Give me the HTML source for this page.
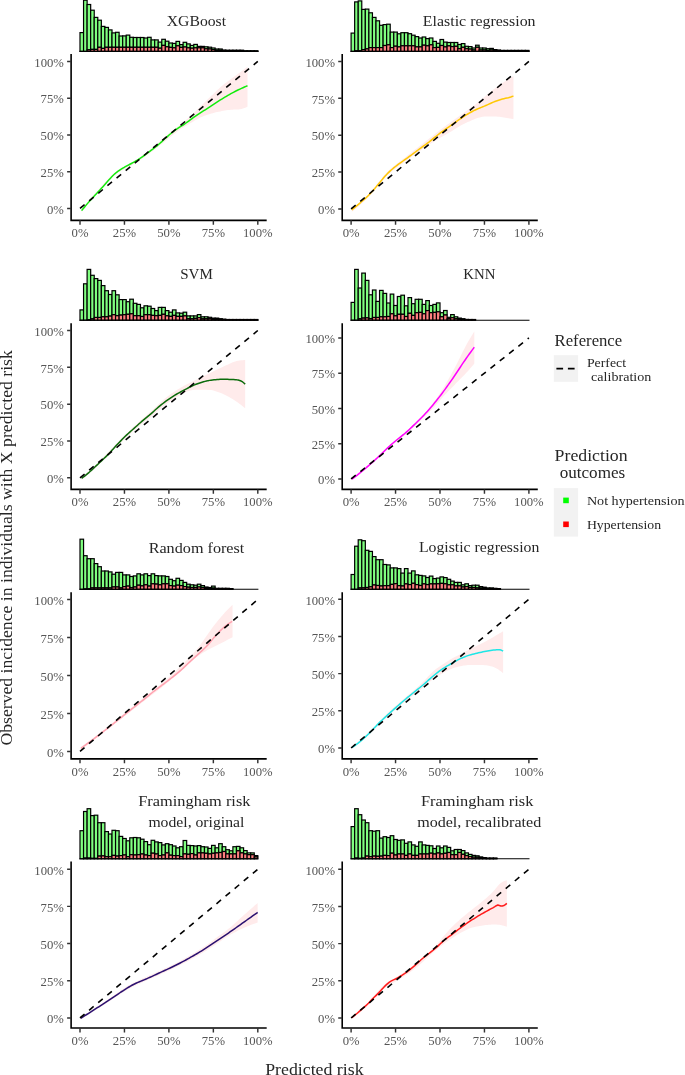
<!DOCTYPE html>
<html><head><meta charset="utf-8"><title>Calibration plots</title>
<style>
html,body{margin:0;padding:0;background:#fff;}
body{width:685px;height:1075px;overflow:hidden;font-family:"Liberation Serif", serif;}
svg{display:block;will-change:transform;}
.tl{font-size:13.3px;fill:#555;}
.tt{font-size:15.6px;fill:#262626;}
.lt{font-size:16.8px;fill:#262626;}
.ll{font-size:13.4px;fill:#262626;}
.at{font-size:16.8px;fill:#262626;}
text{font-family:"Liberation Serif", serif;}
</style></head>
<body>
<svg width="685" height="1075" viewBox="0 0 685 1075">
<rect width="685" height="1075" fill="#fff"/>
<path d="M81.6,209.14 L83.11,207.33 L84.62,205.53 L86.12,203.75 L87.63,201.98 L89.14,200.22 L90.65,198.49 L92.16,196.76 L93.66,195.05 L95.17,193.36 L96.68,191.68 L98.19,190 L99.7,188.31 L101.21,186.61 L102.71,184.9 L104.22,183.19 L105.73,181.5 L107.24,179.85 L108.75,178.24 L110.25,176.71 L111.76,175.25 L113.27,173.9 L114.78,172.65 L116.29,171.5 L117.79,170.45 L119.3,169.49 L120.81,168.59 L122.32,167.73 L123.83,166.91 L125.33,166.12 L126.84,165.32 L128.35,164.51 L129.86,163.68 L131.37,162.82 L132.87,161.91 L134.38,160.95 L135.89,159.97 L137.4,158.95 L138.91,157.92 L140.41,156.86 L141.92,155.79 L143.43,154.69 L144.94,153.58 L146.45,152.45 L147.96,151.31 L149.46,150.14 L150.97,148.96 L152.48,147.74 L153.99,146.49 L155.5,145.21 L157,143.9 L158.51,142.56 L160.02,141.22 L161.53,139.87 L163.04,138.52 L164.54,137.19 L166.05,135.87 L167.56,134.58 L169.07,133.32 L170.58,132.1 L172.08,130.9 L173.59,129.73 L175.1,128.57 L176.61,127.42 L178.12,126.27 L179.62,125.12 L181.13,123.95 L182.64,122.77 L184.15,121.55 L185.66,120.3 L187.16,119.01 L188.67,117.68 L190.18,116.31 L191.69,114.91 L193.2,113.49 L194.71,112.04 L196.21,110.58 L197.72,109.11 L199.23,107.63 L200.74,106.16 L202.25,104.7 L203.75,103.24 L205.26,101.78 L206.77,100.32 L208.28,98.84 L209.79,97.36 L211.29,95.87 L212.8,94.39 L214.31,92.92 L215.82,91.47 L217.33,90.05 L218.83,88.67 L220.34,87.32 L221.85,86.03 L223.36,84.78 L224.87,83.58 L226.37,82.42 L227.88,81.29 L229.39,80.18 L230.9,79.09 L232.41,78.01 L233.91,76.92 L235.42,75.83 L236.93,74.72 L238.44,73.6 L239.95,72.46 L241.46,71.32 L242.96,70.17 L244.47,69.01 L245.98,67.85 L247.49,66.69 L247.49,106.81 L245.98,107.47 L244.47,108.07 L242.96,108.58 L241.46,108.97 L239.95,109.23 L238.44,109.39 L236.93,109.49 L235.42,109.55 L233.91,109.62 L232.41,109.69 L230.9,109.79 L229.39,109.93 L227.88,110.11 L226.37,110.33 L224.87,110.57 L223.36,110.82 L221.85,111.1 L220.34,111.38 L218.83,111.69 L217.33,112.02 L215.82,112.37 L214.31,112.75 L212.8,113.14 L211.29,113.57 L209.79,114.01 L208.28,114.48 L206.77,114.98 L205.26,115.5 L203.75,116.06 L202.25,116.68 L200.74,117.35 L199.23,118.1 L197.72,118.9 L196.21,119.75 L194.71,120.62 L193.2,121.5 L191.69,122.4 L190.18,123.31 L188.67,124.23 L187.16,125.14 L185.66,126.05 L184.15,126.94 L182.64,127.85 L181.13,128.79 L179.62,129.78 L178.12,130.84 L176.61,131.96 L175.1,133.13 L173.59,134.33 L172.08,135.55 L170.58,136.78 L169.07,137.99 L167.56,139.2 L166.05,140.42 L164.54,141.64 L163.04,142.86 L161.53,144.08 L160.02,145.3 L158.51,146.52 L157,147.72 L155.5,148.91 L153.99,150.07 L152.48,151.22 L150.97,152.34 L149.46,153.44 L147.96,154.52 L146.45,155.6 L144.94,156.65 L143.43,157.7 L141.92,158.73 L140.41,159.74 L138.91,160.74 L137.4,161.72 L135.89,162.69 L134.38,163.63 L132.87,164.54 L131.37,165.42 L129.86,166.25 L128.35,167.06 L126.84,167.84 L125.33,168.61 L123.83,169.39 L122.32,170.18 L120.81,171.02 L119.3,171.9 L117.79,172.84 L116.29,173.86 L114.78,174.98 L113.27,176.2 L111.76,177.52 L110.25,178.93 L108.75,180.43 L107.24,181.99 L105.73,183.61 L104.22,185.27 L102.71,186.96 L101.21,188.66 L99.7,190.36 L98.19,192.07 L96.68,193.77 L95.17,195.49 L93.66,197.23 L92.16,199 L90.65,200.79 L89.14,202.62 L87.63,204.46 L86.12,206.34 L84.62,208.23 L83.11,210.15 L81.6,212.08Z" fill="#ffebeb"/>
<path d="M81.6,210.62 L83.11,208.77 L84.62,206.94 L86.12,205.14 L87.63,203.37 L89.14,201.63 L90.65,199.93 L92.16,198.28 L93.66,196.65 L95.17,195.04 L96.68,193.44 L98.19,191.83 L99.7,190.21 L101.21,188.56 L102.71,186.89 L104.22,185.2 L105.73,183.5 L107.24,181.79 L108.75,180.08 L110.25,178.38 L111.76,176.74 L113.27,175.2 L114.78,173.8 L116.29,172.54 L117.79,171.39 L119.3,170.34 L120.81,169.35 L122.32,168.42 L123.83,167.53 L125.33,166.69 L126.84,165.88 L128.35,165.08 L129.86,164.28 L131.37,163.48 L132.87,162.67 L134.38,161.85 L135.89,161.01 L137.4,160.14 L138.91,159.21 L140.41,158.23 L141.92,157.18 L143.43,156.08 L144.94,154.95 L146.45,153.8 L147.96,152.67 L149.46,151.55 L150.97,150.44 L152.48,149.32 L153.99,148.2 L155.5,147.03 L157,145.82 L158.51,144.54 L160.02,143.22 L161.53,141.85 L163.04,140.45 L164.54,139.06 L166.05,137.69 L167.56,136.34 L169.07,135.02 L170.58,133.74 L172.08,132.5 L173.59,131.31 L175.1,130.19 L176.61,129.13 L178.12,128.13 L179.62,127.17 L181.13,126.22 L182.64,125.27 L184.15,124.28 L185.66,123.25 L187.16,122.17 L188.67,121.06 L190.18,119.93 L191.69,118.8 L193.2,117.7 L194.71,116.63 L196.21,115.59 L197.72,114.59 L199.23,113.6 L200.74,112.63 L202.25,111.67 L203.75,110.71 L205.26,109.76 L206.77,108.8 L208.28,107.83 L209.79,106.85 L211.29,105.87 L212.8,104.88 L214.31,103.88 L215.82,102.89 L217.33,101.9 L218.83,100.93 L220.34,99.97 L221.85,99.03 L223.36,98.1 L224.87,97.2 L226.37,96.3 L227.88,95.43 L229.39,94.56 L230.9,93.71 L232.41,92.88 L233.91,92.07 L235.42,91.28 L236.93,90.51 L238.44,89.77 L239.95,89.06 L241.46,88.37 L242.96,87.7 L244.47,87.05 L245.98,86.43 L247.49,85.82" fill="none" stroke="#12ec0c" stroke-width="1.5" stroke-linejoin="round"/>
<line x1="80" y1="208.4" x2="257.8" y2="61.4" stroke="#000" stroke-width="1.6" stroke-dasharray="5.93 5.93"/>
<path d="M71.11,54 V220.35 H266.69" fill="none" stroke="#000" stroke-width="1.6"/>
<path d="M67.11,208.4H71.11M80,220.35V224.75M67.11,171.65H71.11M124.45,220.35V224.75M67.11,134.9H71.11M168.9,220.35V224.75M67.11,98.15H71.11M213.35,220.35V224.75M67.11,61.4H71.11M257.8,220.35V224.75" stroke="#333" stroke-width="1.45"/>
<text x="63.91" y="213.7" text-anchor="end" class="tl" textLength="16.9" lengthAdjust="spacingAndGlyphs">0%</text>
<text x="80" y="236.95" text-anchor="middle" class="tl" textLength="16.9" lengthAdjust="spacingAndGlyphs">0%</text>
<text x="63.91" y="176.95" text-anchor="end" class="tl" textLength="23.3" lengthAdjust="spacingAndGlyphs">25%</text>
<text x="124.45" y="236.95" text-anchor="middle" class="tl" textLength="23.3" lengthAdjust="spacingAndGlyphs">25%</text>
<text x="63.91" y="140.2" text-anchor="end" class="tl" textLength="23.3" lengthAdjust="spacingAndGlyphs">50%</text>
<text x="168.9" y="236.95" text-anchor="middle" class="tl" textLength="23.3" lengthAdjust="spacingAndGlyphs">50%</text>
<text x="63.91" y="103.45" text-anchor="end" class="tl" textLength="23.3" lengthAdjust="spacingAndGlyphs">75%</text>
<text x="213.35" y="236.95" text-anchor="middle" class="tl" textLength="23.3" lengthAdjust="spacingAndGlyphs">75%</text>
<text x="63.91" y="66.7" text-anchor="end" class="tl" textLength="29.6" lengthAdjust="spacingAndGlyphs">100%</text>
<text x="257.8" y="236.95" text-anchor="middle" class="tl" textLength="29.6" lengthAdjust="spacingAndGlyphs">100%</text>
<g fill="#80ff80" stroke="#000" stroke-width="1.2"><rect x="80" y="32.6" width="3.56" height="18.8"/><rect x="83.56" y="0.2" width="3.56" height="51.2"/><rect x="87.11" y="4.5" width="3.56" height="45.3"/><rect x="90.67" y="10.2" width="3.56" height="39.2"/><rect x="94.22" y="17.4" width="3.56" height="32"/><rect x="97.78" y="20.2" width="3.56" height="27.1"/><rect x="101.34" y="26.4" width="3.56" height="22"/><rect x="104.89" y="27.4" width="3.56" height="19.9"/><rect x="108.45" y="29.9" width="3.56" height="17.4"/><rect x="112" y="32.9" width="3.56" height="14.4"/><rect x="115.56" y="32.3" width="3.56" height="15"/><rect x="119.12" y="36" width="3.56" height="11.3"/><rect x="122.67" y="35.9" width="3.56" height="11.4"/><rect x="126.23" y="35.1" width="3.56" height="12.2"/><rect x="129.78" y="37.3" width="3.56" height="10"/><rect x="133.34" y="37.5" width="3.56" height="9.8"/><rect x="136.9" y="37.5" width="3.56" height="9.8"/><rect x="140.45" y="37.5" width="3.56" height="9.8"/><rect x="144.01" y="38" width="3.56" height="9.3"/><rect x="147.56" y="37.3" width="3.56" height="10"/><rect x="151.12" y="39.9" width="3.56" height="7.4"/><rect x="154.68" y="39.9" width="3.56" height="7.4"/><rect x="158.23" y="42.1" width="3.56" height="6.1"/><rect x="161.79" y="39.3" width="3.56" height="6.1"/><rect x="165.34" y="41.2" width="3.56" height="5.6"/><rect x="168.9" y="43" width="3.56" height="4.4"/><rect x="172.46" y="43.4" width="3.56" height="4.4"/><rect x="176.01" y="41.4" width="3.56" height="4.4"/><rect x="179.57" y="44.6" width="3.56" height="2.8"/><rect x="183.12" y="42.3" width="3.56" height="4.7"/><rect x="186.68" y="43.9" width="3.56" height="3.9"/><rect x="190.24" y="45.4" width="3.56" height="2.8"/><rect x="193.79" y="44.4" width="3.56" height="3.4"/><rect x="197.35" y="46.4" width="3.56" height="1.4"/><rect x="200.9" y="46.4" width="3.56" height="1.4"/><rect x="204.46" y="46.8" width="3.56" height="2"/><rect x="208.02" y="47.2" width="3.56" height="1.8"/><rect x="211.57" y="48" width="3.56" height="1.6"/><rect x="215.13" y="49" width="3.56" height="1.4"/><rect x="218.68" y="49" width="3.56" height="1.4"/><rect x="222.24" y="50" width="3.56" height="0.9"/><rect x="225.8" y="50.2" width="3.56" height="0.8"/><rect x="229.35" y="50.2" width="3.56" height="0.8"/><rect x="232.91" y="50.2" width="3.56" height="0.8"/><rect x="236.46" y="50.2" width="3.56" height="0.8"/><rect x="240.02" y="50.2" width="3.56" height="0.8"/><rect x="243.58" y="50.8" width="3.56" height="0.4"/><rect x="247.13" y="50.8" width="3.56" height="0.4"/><rect x="250.69" y="50.8" width="3.56" height="0.4"/><rect x="254.24" y="50.8" width="3.56" height="0.4"/></g>
<g fill="#ff8080" stroke="#000" stroke-width="1.2"><rect x="87.11" y="49.8" width="3.56" height="1.6"/><rect x="90.67" y="49.4" width="3.56" height="2"/><rect x="94.22" y="49.4" width="3.56" height="2"/><rect x="97.78" y="47.3" width="3.56" height="4.1"/><rect x="101.34" y="48.4" width="3.56" height="3"/><rect x="104.89" y="47.3" width="3.56" height="4.1"/><rect x="108.45" y="47.3" width="3.56" height="4.1"/><rect x="112" y="47.3" width="3.56" height="4.1"/><rect x="115.56" y="47.3" width="3.56" height="4.1"/><rect x="119.12" y="47.3" width="3.56" height="4.1"/><rect x="122.67" y="47.3" width="3.56" height="4.1"/><rect x="126.23" y="47.3" width="3.56" height="4.1"/><rect x="129.78" y="47.3" width="3.56" height="4.1"/><rect x="133.34" y="47.3" width="3.56" height="4.1"/><rect x="136.9" y="47.3" width="3.56" height="4.1"/><rect x="140.45" y="47.3" width="3.56" height="4.1"/><rect x="144.01" y="47.3" width="3.56" height="4.1"/><rect x="147.56" y="47.3" width="3.56" height="4.1"/><rect x="151.12" y="47.3" width="3.56" height="4.1"/><rect x="154.68" y="47.3" width="3.56" height="4.1"/><rect x="158.23" y="48.2" width="3.56" height="3.2"/><rect x="161.79" y="45.4" width="3.56" height="6"/><rect x="165.34" y="46.8" width="3.56" height="4.6"/><rect x="168.9" y="47.4" width="3.56" height="4"/><rect x="172.46" y="47.8" width="3.56" height="3.6"/><rect x="176.01" y="45.8" width="3.56" height="5.6"/><rect x="179.57" y="47.4" width="3.56" height="4"/><rect x="183.12" y="47" width="3.56" height="4.4"/><rect x="186.68" y="47.8" width="3.56" height="3.6"/><rect x="190.24" y="48.2" width="3.56" height="3.2"/><rect x="193.79" y="47.8" width="3.56" height="3.6"/><rect x="197.35" y="47.8" width="3.56" height="3.6"/><rect x="200.9" y="47.8" width="3.56" height="3.6"/><rect x="204.46" y="48.8" width="3.56" height="2.6"/><rect x="208.02" y="49" width="3.56" height="2.4"/><rect x="211.57" y="49.6" width="3.56" height="1.8"/><rect x="215.13" y="50.4" width="3.56" height="1"/><rect x="218.68" y="50.4" width="3.56" height="1"/><rect x="222.24" y="50.9" width="3.56" height="0.5"/><rect x="225.8" y="51" width="3.56" height="0.4"/><rect x="229.35" y="51" width="3.56" height="0.4"/><rect x="232.91" y="51" width="3.56" height="0.4"/><rect x="236.46" y="51" width="3.56" height="0.4"/><rect x="240.02" y="51" width="3.56" height="0.4"/><rect x="243.58" y="51.2" width="3.56" height="0.2"/><rect x="247.13" y="51.2" width="3.56" height="0.2"/><rect x="250.69" y="51.2" width="3.56" height="0.2"/><rect x="254.24" y="51.2" width="3.56" height="0.2"/></g>
<line x1="79.4" y1="51.4" x2="258.4" y2="51.4" stroke="#000" stroke-width="1.1"/>
<text x="196.4" y="26.3" text-anchor="middle" class="tt" textLength="59.2" lengthAdjust="spacingAndGlyphs">XGBoost</text>
<path d="M351.81,208.14 L353.32,207.12 L354.82,206.05 L356.33,204.92 L357.83,203.74 L359.34,202.5 L360.85,201.21 L362.35,199.87 L363.86,198.49 L365.36,197.07 L366.87,195.61 L368.37,194.11 L369.88,192.55 L371.39,190.91 L372.89,189.18 L374.4,187.39 L375.9,185.57 L377.41,183.73 L378.92,181.88 L380.42,180.02 L381.93,178.15 L383.43,176.3 L384.94,174.52 L386.44,172.85 L387.95,171.29 L389.46,169.85 L390.96,168.5 L392.47,167.22 L393.97,165.99 L395.48,164.8 L396.98,163.64 L398.49,162.5 L400,161.37 L401.5,160.23 L403.01,159.08 L404.51,157.92 L406.02,156.74 L407.52,155.55 L409.03,154.36 L410.54,153.17 L412.04,151.99 L413.55,150.8 L415.05,149.62 L416.56,148.44 L418.07,147.26 L419.57,146.08 L421.08,144.91 L422.58,143.73 L424.09,142.55 L425.59,141.37 L427.1,140.19 L428.61,139.01 L430.11,137.82 L431.62,136.64 L433.12,135.45 L434.63,134.27 L436.13,133.1 L437.64,131.93 L439.15,130.77 L440.65,129.62 L442.16,128.48 L443.66,127.35 L445.17,126.23 L446.68,125.12 L448.18,124.02 L449.69,122.92 L451.19,121.83 L452.7,120.74 L454.2,119.66 L455.71,118.57 L457.22,117.49 L458.72,116.4 L460.23,115.31 L461.73,114.22 L463.24,113.14 L464.74,112.06 L466.25,110.98 L467.76,109.9 L469.26,108.82 L470.77,107.73 L472.27,106.63 L473.78,105.52 L475.29,104.39 L476.79,103.24 L478.3,102.06 L479.8,100.84 L481.31,99.6 L482.81,98.33 L484.32,97.05 L485.83,95.76 L487.33,94.47 L488.84,93.19 L490.34,91.94 L491.85,90.72 L493.35,89.53 L494.86,88.38 L496.37,87.26 L497.87,86.18 L499.38,85.11 L500.88,84.07 L502.39,83.05 L503.89,82.05 L505.4,81.07 L506.91,80.11 L508.41,79.16 L509.92,78.24 L511.42,77.34 L512.93,76.45 L513.43,76.16 L513.43,119.23 L512.93,119.11 L511.42,118.77 L509.92,118.45 L508.41,118.16 L506.91,117.89 L505.4,117.64 L503.89,117.4 L502.39,117.18 L500.88,116.97 L499.38,116.78 L497.87,116.63 L496.37,116.52 L494.86,116.46 L493.35,116.43 L491.85,116.42 L490.34,116.42 L488.84,116.42 L487.33,116.43 L485.83,116.46 L484.32,116.55 L482.81,116.74 L481.31,117.03 L479.8,117.4 L478.3,117.83 L476.79,118.31 L475.29,118.83 L473.78,119.41 L472.27,120.04 L470.77,120.7 L469.26,121.38 L467.76,122.07 L466.25,122.78 L464.74,123.51 L463.24,124.26 L461.73,125.05 L460.23,125.87 L458.72,126.74 L457.22,127.64 L455.71,128.58 L454.2,129.53 L452.7,130.48 L451.19,131.4 L449.69,132.3 L448.18,133.18 L446.68,134.05 L445.17,134.92 L443.66,135.8 L442.16,136.69 L440.65,137.59 L439.15,138.5 L437.64,139.41 L436.13,140.34 L434.63,141.26 L433.12,142.19 L431.62,143.12 L430.11,144.05 L428.61,144.99 L427.1,145.94 L425.59,146.92 L424.09,147.91 L422.58,148.93 L421.08,149.97 L419.57,151.02 L418.07,152.09 L416.56,153.16 L415.05,154.25 L413.55,155.35 L412.04,156.45 L410.54,157.57 L409.03,158.68 L407.52,159.8 L406.02,160.92 L404.51,162.03 L403.01,163.13 L401.5,164.21 L400,165.29 L398.49,166.37 L396.98,167.46 L395.48,168.58 L393.97,169.72 L392.47,170.91 L390.96,172.15 L389.46,173.45 L387.95,174.85 L386.44,176.35 L384.94,177.98 L383.43,179.71 L381.93,181.51 L380.42,183.34 L378.92,185.16 L377.41,186.95 L375.9,188.72 L374.4,190.48 L372.89,192.22 L371.39,193.9 L369.88,195.52 L368.37,197.09 L366.87,198.6 L365.36,200.08 L363.86,201.54 L362.35,202.96 L360.85,204.34 L359.34,205.69 L357.83,207.01 L356.33,208.28 L354.82,209.5 L353.32,210.68 L351.81,211.83Z" fill="#ffebeb"/>
<path d="M351.81,209.92 L353.32,208.67 L354.82,207.41 L356.33,206.14 L357.83,204.86 L359.34,203.57 L360.85,202.28 L362.35,200.98 L363.86,199.66 L365.36,198.33 L366.87,196.94 L368.37,195.5 L369.88,193.97 L371.39,192.36 L372.89,190.67 L374.4,188.92 L375.9,187.14 L377.41,185.34 L378.92,183.52 L380.42,181.69 L381.93,179.87 L383.43,178.07 L384.94,176.32 L386.44,174.66 L387.95,173.1 L389.46,171.64 L390.96,170.26 L392.47,168.95 L393.97,167.7 L395.48,166.5 L396.98,165.34 L398.49,164.22 L400,163.13 L401.5,162.06 L403.01,161 L404.51,159.94 L406.02,158.86 L407.52,157.78 L409.03,156.69 L410.54,155.58 L412.04,154.48 L413.55,153.37 L415.05,152.25 L416.56,151.13 L418.07,150.01 L419.57,148.89 L421.08,147.78 L422.58,146.69 L424.09,145.61 L425.59,144.54 L427.1,143.46 L428.61,142.34 L430.11,141.17 L431.62,139.95 L433.12,138.7 L434.63,137.45 L436.13,136.22 L437.64,135.03 L439.15,133.86 L440.65,132.71 L442.16,131.59 L443.66,130.5 L445.17,129.43 L446.68,128.37 L448.18,127.33 L449.69,126.28 L451.19,125.23 L452.7,124.17 L454.2,123.1 L455.71,122.03 L457.22,120.97 L458.72,119.92 L460.23,118.88 L461.73,117.85 L463.24,116.85 L464.74,115.86 L466.25,114.91 L467.76,113.99 L469.26,113.11 L470.77,112.28 L472.27,111.47 L473.78,110.7 L475.29,109.97 L476.79,109.28 L478.3,108.62 L479.8,107.99 L481.31,107.38 L482.81,106.78 L484.32,106.17 L485.83,105.52 L487.33,104.85 L488.84,104.15 L490.34,103.46 L491.85,102.79 L493.35,102.15 L494.86,101.55 L496.37,100.98 L497.87,100.45 L499.38,99.94 L500.88,99.47 L502.39,99.04 L503.89,98.67 L505.4,98.34 L506.91,98.05 L508.41,97.74 L509.92,97.33 L511.42,96.77 L512.93,96.06 L513.43,95.79" fill="none" stroke="#ffc805" stroke-width="1.5" stroke-linejoin="round"/>
<line x1="351.1" y1="208.9" x2="528.9" y2="61.4" stroke="#000" stroke-width="1.6" stroke-dasharray="5.93 5.93"/>
<path d="M342.21,54 V220.35 H537.79" fill="none" stroke="#000" stroke-width="1.6"/>
<path d="M338.21,208.9H342.21M351.1,220.35V224.75M338.21,172.03H342.21M395.55,220.35V224.75M338.21,135.15H342.21M440,220.35V224.75M338.21,98.28H342.21M484.45,220.35V224.75M338.21,61.4H342.21M528.9,220.35V224.75" stroke="#333" stroke-width="1.45"/>
<text x="335.01" y="214.2" text-anchor="end" class="tl" textLength="16.9" lengthAdjust="spacingAndGlyphs">0%</text>
<text x="351.1" y="236.95" text-anchor="middle" class="tl" textLength="16.9" lengthAdjust="spacingAndGlyphs">0%</text>
<text x="335.01" y="177.33" text-anchor="end" class="tl" textLength="23.3" lengthAdjust="spacingAndGlyphs">25%</text>
<text x="395.55" y="236.95" text-anchor="middle" class="tl" textLength="23.3" lengthAdjust="spacingAndGlyphs">25%</text>
<text x="335.01" y="140.45" text-anchor="end" class="tl" textLength="23.3" lengthAdjust="spacingAndGlyphs">50%</text>
<text x="440" y="236.95" text-anchor="middle" class="tl" textLength="23.3" lengthAdjust="spacingAndGlyphs">50%</text>
<text x="335.01" y="103.58" text-anchor="end" class="tl" textLength="23.3" lengthAdjust="spacingAndGlyphs">75%</text>
<text x="484.45" y="236.95" text-anchor="middle" class="tl" textLength="23.3" lengthAdjust="spacingAndGlyphs">75%</text>
<text x="335.01" y="66.7" text-anchor="end" class="tl" textLength="29.6" lengthAdjust="spacingAndGlyphs">100%</text>
<text x="528.9" y="236.95" text-anchor="middle" class="tl" textLength="29.6" lengthAdjust="spacingAndGlyphs">100%</text>
<g fill="#80ff80" stroke="#000" stroke-width="1.2"><rect x="351.1" y="33.1" width="3.56" height="18.3"/><rect x="354.66" y="1.9" width="3.56" height="48.9"/><rect x="358.21" y="0.9" width="3.56" height="49.9"/><rect x="361.77" y="9.4" width="3.56" height="40.2"/><rect x="365.32" y="9.1" width="3.56" height="39.8"/><rect x="368.88" y="12.8" width="3.56" height="34.8"/><rect x="372.44" y="17.4" width="3.56" height="30.2"/><rect x="375.99" y="20.8" width="3.56" height="26.8"/><rect x="379.55" y="25.3" width="3.56" height="22.3"/><rect x="383.1" y="24.6" width="3.56" height="20.9"/><rect x="386.66" y="24.2" width="3.56" height="20.6"/><rect x="390.22" y="32.1" width="3.56" height="15.5"/><rect x="393.77" y="32.1" width="3.56" height="14.1"/><rect x="397.33" y="33.8" width="3.56" height="13.1"/><rect x="400.88" y="32.7" width="3.56" height="13.1"/><rect x="404.44" y="32.7" width="3.56" height="13.1"/><rect x="408" y="33.7" width="3.56" height="12.1"/><rect x="411.55" y="35.2" width="3.56" height="10.6"/><rect x="415.11" y="36.6" width="3.56" height="10.3"/><rect x="418.66" y="38" width="3.56" height="8.9"/><rect x="422.22" y="37" width="3.56" height="8.2"/><rect x="425.78" y="38.6" width="3.56" height="7.2"/><rect x="429.33" y="38" width="3.56" height="6.8"/><rect x="432.89" y="41.4" width="3.56" height="6.2"/><rect x="436.44" y="43.3" width="3.56" height="4.1"/><rect x="440" y="39.5" width="3.56" height="6"/><rect x="443.56" y="42.1" width="3.56" height="4.8"/><rect x="447.11" y="42.5" width="3.56" height="3.4"/><rect x="450.67" y="42.5" width="3.56" height="4.1"/><rect x="454.22" y="42.5" width="3.56" height="3.8"/><rect x="457.78" y="44.5" width="3.56" height="4.2"/><rect x="461.34" y="43.6" width="3.56" height="3.7"/><rect x="464.89" y="46.3" width="3.56" height="2.4"/><rect x="468.45" y="46.6" width="3.56" height="2.5"/><rect x="472" y="48" width="3.56" height="2"/><rect x="475.56" y="45.2" width="3.56" height="2.1"/><rect x="479.12" y="48" width="3.56" height="2"/><rect x="482.67" y="48" width="3.56" height="2"/><rect x="486.23" y="48.7" width="3.56" height="1.7"/><rect x="489.78" y="48.4" width="3.56" height="1.6"/><rect x="493.34" y="49.6" width="3.56" height="1.2"/><rect x="496.9" y="50" width="3.56" height="0.9"/><rect x="500.45" y="50.4" width="3.56" height="0.6"/><rect x="504.01" y="50.4" width="3.56" height="0.6"/><rect x="507.56" y="50.4" width="3.56" height="0.6"/><rect x="511.12" y="50.4" width="3.56" height="0.6"/><rect x="514.68" y="50.4" width="3.56" height="0.6"/><rect x="518.23" y="50.4" width="3.56" height="0.6"/><rect x="521.79" y="50.4" width="3.56" height="0.6"/><rect x="525.34" y="50.4" width="3.56" height="0.6"/></g>
<g fill="#ff8080" stroke="#000" stroke-width="1.2"><rect x="354.66" y="50.8" width="3.56" height="0.6"/><rect x="358.21" y="50.8" width="3.56" height="0.6"/><rect x="361.77" y="49.6" width="3.56" height="1.8"/><rect x="365.32" y="48.9" width="3.56" height="2.5"/><rect x="368.88" y="47.6" width="3.56" height="3.8"/><rect x="372.44" y="47.6" width="3.56" height="3.8"/><rect x="375.99" y="47.6" width="3.56" height="3.8"/><rect x="379.55" y="47.6" width="3.56" height="3.8"/><rect x="383.1" y="45.5" width="3.56" height="5.9"/><rect x="386.66" y="44.8" width="3.56" height="6.6"/><rect x="390.22" y="47.6" width="3.56" height="3.8"/><rect x="393.77" y="46.2" width="3.56" height="5.2"/><rect x="397.33" y="46.9" width="3.56" height="4.5"/><rect x="400.88" y="45.8" width="3.56" height="5.6"/><rect x="404.44" y="45.8" width="3.56" height="5.6"/><rect x="408" y="45.8" width="3.56" height="5.6"/><rect x="411.55" y="45.8" width="3.56" height="5.6"/><rect x="415.11" y="46.9" width="3.56" height="4.5"/><rect x="418.66" y="46.9" width="3.56" height="4.5"/><rect x="422.22" y="45.2" width="3.56" height="6.2"/><rect x="425.78" y="45.8" width="3.56" height="5.6"/><rect x="429.33" y="44.8" width="3.56" height="6.6"/><rect x="432.89" y="47.6" width="3.56" height="3.8"/><rect x="436.44" y="47.4" width="3.56" height="4"/><rect x="440" y="45.5" width="3.56" height="5.9"/><rect x="443.56" y="46.9" width="3.56" height="4.5"/><rect x="447.11" y="45.9" width="3.56" height="5.5"/><rect x="450.67" y="46.6" width="3.56" height="4.8"/><rect x="454.22" y="46.3" width="3.56" height="5.1"/><rect x="457.78" y="48.7" width="3.56" height="2.7"/><rect x="461.34" y="47.3" width="3.56" height="4.1"/><rect x="464.89" y="48.7" width="3.56" height="2.7"/><rect x="468.45" y="49.1" width="3.56" height="2.3"/><rect x="472" y="50" width="3.56" height="1.4"/><rect x="475.56" y="47.3" width="3.56" height="4.1"/><rect x="479.12" y="50" width="3.56" height="1.4"/><rect x="482.67" y="50" width="3.56" height="1.4"/><rect x="486.23" y="50.4" width="3.56" height="1"/><rect x="489.78" y="50" width="3.56" height="1.4"/><rect x="493.34" y="50.8" width="3.56" height="0.6"/><rect x="496.9" y="50.9" width="3.56" height="0.5"/><rect x="500.45" y="51" width="3.56" height="0.4"/><rect x="504.01" y="51" width="3.56" height="0.4"/><rect x="507.56" y="51" width="3.56" height="0.4"/><rect x="511.12" y="51" width="3.56" height="0.4"/><rect x="514.68" y="51" width="3.56" height="0.4"/><rect x="518.23" y="51" width="3.56" height="0.4"/><rect x="521.79" y="51" width="3.56" height="0.4"/><rect x="525.34" y="51" width="3.56" height="0.4"/></g>
<line x1="350.5" y1="51.4" x2="529.5" y2="51.4" stroke="#000" stroke-width="1.1"/>
<text x="479.2" y="25.9" text-anchor="middle" class="tt" textLength="112.7" lengthAdjust="spacingAndGlyphs">Elastic regression</text>
<path d="M81.6,476.91 L83.11,475.69 L84.61,474.46 L86.12,473.2 L87.62,471.93 L89.13,470.64 L90.63,469.33 L92.14,467.99 L93.64,466.64 L95.15,465.27 L96.65,463.87 L98.16,462.45 L99.66,461 L101.17,459.52 L102.67,458 L104.18,456.45 L105.69,454.88 L107.19,453.29 L108.7,451.69 L110.2,450.09 L111.71,448.49 L113.21,446.9 L114.72,445.33 L116.22,443.78 L117.73,442.25 L119.23,440.74 L120.74,439.23 L122.24,437.73 L123.75,436.25 L125.25,434.76 L126.76,433.29 L128.26,431.83 L129.77,430.38 L131.28,428.95 L132.78,427.53 L134.29,426.13 L135.79,424.75 L137.3,423.39 L138.8,422.05 L140.31,420.73 L141.81,419.42 L143.32,418.12 L144.82,416.81 L146.33,415.51 L147.83,414.19 L149.34,412.87 L150.84,411.51 L152.35,410.13 L153.85,408.73 L155.36,407.31 L156.87,405.88 L158.37,404.46 L159.88,403.05 L161.38,401.67 L162.89,400.32 L164.39,399.02 L165.9,397.78 L167.4,396.59 L168.91,395.46 L170.41,394.37 L171.92,393.3 L173.42,392.27 L174.93,391.27 L176.43,390.29 L177.94,389.34 L179.44,388.42 L180.95,387.52 L182.46,386.64 L183.96,385.79 L185.47,384.96 L186.97,384.17 L188.48,383.4 L189.98,382.65 L191.49,381.93 L192.99,381.22 L194.5,380.53 L196,379.84 L197.51,379.15 L199.01,378.46 L200.52,377.77 L202.02,377.05 L203.53,376.33 L205.03,375.59 L206.54,374.85 L208.05,374.1 L209.55,373.34 L211.06,372.58 L212.56,371.83 L214.07,371.07 L215.57,370.33 L217.08,369.59 L218.58,368.86 L220.09,368.15 L221.59,367.45 L223.1,366.76 L224.6,366.06 L226.11,365.35 L227.61,364.64 L229.12,363.92 L230.62,363.23 L232.13,362.58 L233.64,361.99 L235.14,361.48 L236.65,361.07 L238.15,360.74 L239.66,360.49 L241.16,360.29 L242.67,360.14 L244.17,360.03 L245.18,359.99 L245.18,408.29 L244.17,407.46 L242.67,406.23 L241.16,405.04 L239.66,403.88 L238.15,402.77 L236.65,401.7 L235.14,400.68 L233.64,399.71 L232.13,398.79 L230.62,397.91 L229.12,397.08 L227.61,396.27 L226.11,395.49 L224.6,394.75 L223.1,394.04 L221.59,393.37 L220.09,392.75 L218.58,392.17 L217.08,391.65 L215.57,391.16 L214.07,390.71 L212.56,390.34 L211.06,390.08 L209.55,389.94 L208.05,389.88 L206.54,389.86 L205.03,389.86 L203.53,389.86 L202.02,389.86 L200.52,389.86 L199.01,389.86 L197.51,389.86 L196,389.87 L194.5,389.91 L192.99,390.01 L191.49,390.21 L189.98,390.55 L188.48,391.03 L186.97,391.62 L185.47,392.32 L183.96,393.08 L182.46,393.9 L180.95,394.76 L179.44,395.62 L177.94,396.49 L176.43,397.35 L174.93,398.23 L173.42,399.15 L171.92,400.12 L170.41,401.14 L168.91,402.21 L167.4,403.32 L165.9,404.46 L164.39,405.62 L162.89,406.79 L161.38,407.98 L159.88,409.17 L158.37,410.38 L156.87,411.62 L155.36,412.88 L153.85,414.16 L152.35,415.45 L150.84,416.72 L149.34,417.97 L147.83,419.2 L146.33,420.41 L144.82,421.61 L143.32,422.8 L141.81,424 L140.31,425.2 L138.8,426.42 L137.3,427.66 L135.79,428.93 L134.29,430.23 L132.78,431.56 L131.28,432.91 L129.77,434.29 L128.26,435.68 L126.76,437.09 L125.25,438.52 L123.75,439.96 L122.24,441.41 L120.74,442.86 L119.23,444.32 L117.73,445.79 L116.22,447.27 L114.72,448.77 L113.21,450.28 L111.71,451.81 L110.2,453.36 L108.7,454.9 L107.19,456.45 L105.69,457.99 L104.18,459.52 L102.67,461.02 L101.17,462.51 L99.66,463.97 L98.16,465.4 L96.65,466.81 L95.15,468.2 L93.64,469.57 L92.14,470.93 L90.63,472.27 L89.13,473.6 L87.62,474.91 L86.12,476.2 L84.61,477.48 L83.11,478.75 L81.6,480Z" fill="#ffebeb"/>
<path d="M81.6,478.39 L83.11,477.23 L84.61,476.05 L86.12,474.83 L87.62,473.58 L89.13,472.31 L90.63,470.99 L92.14,469.63 L93.64,468.23 L95.15,466.81 L96.65,465.38 L98.16,463.96 L99.66,462.55 L101.17,461.14 L102.67,459.74 L104.18,458.32 L105.69,456.87 L107.19,455.39 L108.7,453.85 L110.2,452.25 L111.71,450.6 L113.21,448.93 L114.72,447.26 L116.22,445.61 L117.73,444 L119.23,442.42 L120.74,440.86 L122.24,439.32 L123.75,437.81 L125.25,436.33 L126.76,434.89 L128.26,433.5 L129.77,432.14 L131.28,430.81 L132.78,429.48 L134.29,428.15 L135.79,426.8 L137.3,425.44 L138.8,424.07 L140.31,422.71 L141.81,421.37 L143.32,420.07 L144.82,418.81 L146.33,417.6 L147.83,416.4 L149.34,415.18 L150.84,413.91 L152.35,412.57 L153.85,411.2 L155.36,409.82 L156.87,408.46 L158.37,407.15 L159.88,405.89 L161.38,404.67 L162.89,403.47 L164.39,402.31 L165.9,401.18 L167.4,400.09 L168.91,399.04 L170.41,398.02 L171.92,397.04 L173.42,396.08 L174.93,395.15 L176.43,394.25 L177.94,393.39 L179.44,392.55 L180.95,391.74 L182.46,390.94 L183.96,390.15 L185.47,389.36 L186.97,388.56 L188.48,387.75 L189.98,386.96 L191.49,386.21 L192.99,385.51 L194.5,384.87 L196,384.28 L197.51,383.73 L199.01,383.2 L200.52,382.71 L202.02,382.25 L203.53,381.81 L205.03,381.39 L206.54,380.99 L208.05,380.64 L209.55,380.37 L211.06,380.16 L212.56,379.98 L214.07,379.82 L215.57,379.67 L217.08,379.54 L218.58,379.43 L220.09,379.35 L221.59,379.29 L223.1,379.27 L224.6,379.27 L226.11,379.29 L227.61,379.33 L229.12,379.38 L230.62,379.44 L232.13,379.52 L233.64,379.61 L235.14,379.72 L236.65,379.87 L238.15,380.1 L239.66,380.44 L241.16,381.01 L242.67,381.97 L244.17,383.21 L245.18,384.14" fill="none" stroke="#0b6b0b" stroke-width="1.5" stroke-linejoin="round"/>
<line x1="80" y1="477.8" x2="257.8" y2="330.5" stroke="#000" stroke-width="1.6" stroke-dasharray="5.93 5.93"/>
<path d="M71.11,323.3 V489.4 H266.69" fill="none" stroke="#000" stroke-width="1.6"/>
<path d="M67.11,477.8H71.11M80,489.4V493.8M67.11,440.98H71.11M124.45,489.4V493.8M67.11,404.15H71.11M168.9,489.4V493.8M67.11,367.32H71.11M213.35,489.4V493.8M67.11,330.5H71.11M257.8,489.4V493.8" stroke="#333" stroke-width="1.45"/>
<text x="63.91" y="483.1" text-anchor="end" class="tl" textLength="16.9" lengthAdjust="spacingAndGlyphs">0%</text>
<text x="80" y="506" text-anchor="middle" class="tl" textLength="16.9" lengthAdjust="spacingAndGlyphs">0%</text>
<text x="63.91" y="446.28" text-anchor="end" class="tl" textLength="23.3" lengthAdjust="spacingAndGlyphs">25%</text>
<text x="124.45" y="506" text-anchor="middle" class="tl" textLength="23.3" lengthAdjust="spacingAndGlyphs">25%</text>
<text x="63.91" y="409.45" text-anchor="end" class="tl" textLength="23.3" lengthAdjust="spacingAndGlyphs">50%</text>
<text x="168.9" y="506" text-anchor="middle" class="tl" textLength="23.3" lengthAdjust="spacingAndGlyphs">50%</text>
<text x="63.91" y="372.62" text-anchor="end" class="tl" textLength="23.3" lengthAdjust="spacingAndGlyphs">75%</text>
<text x="213.35" y="506" text-anchor="middle" class="tl" textLength="23.3" lengthAdjust="spacingAndGlyphs">75%</text>
<text x="63.91" y="335.8" text-anchor="end" class="tl" textLength="29.6" lengthAdjust="spacingAndGlyphs">100%</text>
<text x="257.8" y="506" text-anchor="middle" class="tl" textLength="29.6" lengthAdjust="spacingAndGlyphs">100%</text>
<g fill="#80ff80" stroke="#000" stroke-width="1.2"><rect x="80" y="309.9" width="3.56" height="10.3"/><rect x="83.56" y="283.8" width="3.56" height="36.4"/><rect x="87.11" y="269.4" width="3.56" height="50.4"/><rect x="90.67" y="275.3" width="3.56" height="43.5"/><rect x="94.22" y="278.6" width="3.56" height="38.9"/><rect x="97.78" y="280.4" width="3.56" height="37.1"/><rect x="101.34" y="285.6" width="3.56" height="31.2"/><rect x="104.89" y="290.7" width="3.56" height="26.1"/><rect x="108.45" y="294.5" width="3.56" height="21.6"/><rect x="112" y="290.7" width="3.56" height="24"/><rect x="115.56" y="294.8" width="3.56" height="20.9"/><rect x="119.12" y="299.6" width="3.56" height="15.5"/><rect x="122.67" y="299.6" width="3.56" height="15.1"/><rect x="126.23" y="301.7" width="3.56" height="12.6"/><rect x="129.78" y="299.2" width="3.56" height="14.6"/><rect x="133.34" y="303.3" width="3.56" height="12.4"/><rect x="136.9" y="304.4" width="3.56" height="11.3"/><rect x="140.45" y="307.8" width="3.56" height="8.7"/><rect x="144.01" y="305.8" width="3.56" height="8.9"/><rect x="147.56" y="306.2" width="3.56" height="8.5"/><rect x="151.12" y="308.5" width="3.56" height="6.9"/><rect x="154.68" y="310.6" width="3.56" height="5.1"/><rect x="158.23" y="307.4" width="3.56" height="8"/><rect x="161.79" y="307.4" width="3.56" height="6.9"/><rect x="165.34" y="310.6" width="3.56" height="5.2"/><rect x="168.9" y="312.2" width="3.56" height="4.2"/><rect x="172.46" y="309.9" width="3.56" height="5.5"/><rect x="176.01" y="312.9" width="3.56" height="3.5"/><rect x="179.57" y="313.2" width="3.56" height="3.2"/><rect x="183.12" y="312.2" width="3.56" height="3.7"/><rect x="186.68" y="315.9" width="3.56" height="2.8"/><rect x="190.24" y="315.9" width="3.56" height="2.8"/><rect x="193.79" y="315.9" width="3.56" height="2.5"/><rect x="197.35" y="314.6" width="3.56" height="3.1"/><rect x="200.9" y="316.8" width="3.56" height="2"/><rect x="204.46" y="316.8" width="3.56" height="1.9"/><rect x="208.02" y="317.3" width="3.56" height="1.4"/><rect x="211.57" y="318.1" width="3.56" height="1.1"/><rect x="215.13" y="318.1" width="3.56" height="1.1"/><rect x="218.68" y="318.7" width="3.56" height="0.8"/><rect x="222.24" y="319.1" width="3.56" height="0.6"/><rect x="225.8" y="319.5" width="3.56" height="0.4"/><rect x="229.35" y="319.5" width="3.56" height="0.4"/><rect x="232.91" y="319.5" width="3.56" height="0.4"/><rect x="236.46" y="319.5" width="3.56" height="0.4"/><rect x="240.02" y="319.5" width="3.56" height="0.4"/><rect x="243.58" y="319.5" width="3.56" height="0.4"/><rect x="247.13" y="319.5" width="3.56" height="0.4"/><rect x="250.69" y="319.5" width="3.56" height="0.4"/><rect x="254.24" y="319.5" width="3.56" height="0.4"/></g>
<g fill="#ff8080" stroke="#000" stroke-width="1.2"><rect x="87.11" y="319.8" width="3.56" height="0.4"/><rect x="90.67" y="318.8" width="3.56" height="1.4"/><rect x="94.22" y="317.5" width="3.56" height="2.7"/><rect x="97.78" y="317.5" width="3.56" height="2.7"/><rect x="101.34" y="316.8" width="3.56" height="3.4"/><rect x="104.89" y="316.8" width="3.56" height="3.4"/><rect x="108.45" y="316.1" width="3.56" height="4.1"/><rect x="112" y="314.7" width="3.56" height="5.5"/><rect x="115.56" y="315.7" width="3.56" height="4.5"/><rect x="119.12" y="315.1" width="3.56" height="5.1"/><rect x="122.67" y="314.7" width="3.56" height="5.5"/><rect x="126.23" y="314.3" width="3.56" height="5.9"/><rect x="129.78" y="313.8" width="3.56" height="6.4"/><rect x="133.34" y="315.7" width="3.56" height="4.5"/><rect x="136.9" y="315.7" width="3.56" height="4.5"/><rect x="140.45" y="316.5" width="3.56" height="3.7"/><rect x="144.01" y="314.7" width="3.56" height="5.5"/><rect x="147.56" y="314.7" width="3.56" height="5.5"/><rect x="151.12" y="315.4" width="3.56" height="4.8"/><rect x="154.68" y="315.7" width="3.56" height="4.5"/><rect x="158.23" y="315.4" width="3.56" height="4.8"/><rect x="161.79" y="314.3" width="3.56" height="5.9"/><rect x="165.34" y="315.8" width="3.56" height="4.4"/><rect x="168.9" y="316.4" width="3.56" height="3.8"/><rect x="172.46" y="315.4" width="3.56" height="4.8"/><rect x="176.01" y="316.4" width="3.56" height="3.8"/><rect x="179.57" y="316.4" width="3.56" height="3.8"/><rect x="183.12" y="315.9" width="3.56" height="4.3"/><rect x="186.68" y="318.7" width="3.56" height="1.5"/><rect x="190.24" y="318.7" width="3.56" height="1.5"/><rect x="193.79" y="318.4" width="3.56" height="1.8"/><rect x="197.35" y="317.7" width="3.56" height="2.5"/><rect x="200.9" y="318.8" width="3.56" height="1.4"/><rect x="204.46" y="318.7" width="3.56" height="1.5"/><rect x="208.02" y="318.7" width="3.56" height="1.5"/><rect x="211.57" y="319.2" width="3.56" height="1"/><rect x="215.13" y="319.2" width="3.56" height="1"/><rect x="218.68" y="319.5" width="3.56" height="0.7"/><rect x="222.24" y="319.7" width="3.56" height="0.5"/><rect x="225.8" y="319.9" width="3.56" height="0.3"/><rect x="229.35" y="319.9" width="3.56" height="0.3"/><rect x="232.91" y="319.9" width="3.56" height="0.3"/><rect x="236.46" y="319.9" width="3.56" height="0.3"/><rect x="240.02" y="319.9" width="3.56" height="0.3"/><rect x="243.58" y="319.9" width="3.56" height="0.3"/><rect x="247.13" y="319.9" width="3.56" height="0.3"/><rect x="250.69" y="319.9" width="3.56" height="0.3"/><rect x="254.24" y="319.9" width="3.56" height="0.3"/></g>
<line x1="79.4" y1="320.2" x2="258.4" y2="320.2" stroke="#000" stroke-width="1.1"/>
<text x="196.5" y="278.8" text-anchor="middle" class="tt" textLength="32.6" lengthAdjust="spacingAndGlyphs">SVM</text>
<path d="M351.81,477.76 L353.32,476.65 L354.82,475.53 L356.33,474.38 L357.84,473.23 L359.34,472.05 L360.85,470.85 L362.35,469.64 L363.86,468.42 L365.37,467.17 L366.87,465.91 L368.38,464.64 L369.89,463.34 L371.39,462.03 L372.9,460.68 L374.4,459.29 L375.91,457.88 L377.42,456.43 L378.92,454.98 L380.43,453.52 L381.94,452.05 L383.44,450.6 L384.95,449.17 L386.45,447.77 L387.96,446.4 L389.47,445.07 L390.97,443.78 L392.48,442.52 L393.98,441.29 L395.49,440.08 L397,438.87 L398.5,437.67 L400.01,436.45 L401.52,435.23 L403.02,433.97 L404.53,432.69 L406.03,431.38 L407.54,430.03 L409.05,428.66 L410.55,427.27 L412.06,425.85 L413.57,424.42 L415.07,422.96 L416.58,421.48 L418.08,419.98 L419.59,418.45 L421.1,416.89 L422.6,415.31 L424.11,413.7 L425.61,412.06 L427.12,410.37 L428.63,408.64 L430.13,406.85 L431.64,404.99 L433.15,403.05 L434.65,401.03 L436.16,398.93 L437.66,396.75 L439.17,394.5 L440.68,392.19 L442.18,389.82 L443.69,387.4 L445.2,384.91 L446.7,382.36 L448.21,379.74 L449.71,377.07 L451.22,374.35 L452.73,371.58 L454.23,368.77 L455.74,365.91 L457.25,362.96 L458.75,359.95 L460.26,356.9 L461.76,353.85 L463.27,350.84 L464.78,347.9 L466.28,345.06 L467.79,342.33 L469.29,339.69 L470.8,337.14 L472.31,334.66 L473.81,332.24 L474.32,331.44 L474.32,363.55 L473.81,364.16 L472.31,365.96 L470.8,367.73 L469.29,369.47 L467.79,371.17 L466.28,372.82 L464.78,374.43 L463.27,376.01 L461.76,377.55 L460.26,379.07 L458.75,380.58 L457.25,382.1 L455.74,383.62 L454.23,385.15 L452.73,386.69 L451.22,388.23 L449.71,389.77 L448.21,391.33 L446.7,392.9 L445.2,394.49 L443.69,396.12 L442.18,397.78 L440.68,399.49 L439.17,401.23 L437.66,402.98 L436.16,404.72 L434.65,406.42 L433.15,408.07 L431.64,409.66 L430.13,411.21 L428.63,412.72 L427.12,414.21 L425.61,415.68 L424.11,417.15 L422.6,418.61 L421.1,420.08 L419.59,421.54 L418.08,423 L416.58,424.46 L415.07,425.9 L413.57,427.33 L412.06,428.75 L410.55,430.15 L409.05,431.52 L407.54,432.87 L406.03,434.19 L404.53,435.48 L403.02,436.73 L401.52,437.95 L400.01,439.16 L398.5,440.35 L397,441.53 L395.49,442.71 L393.98,443.91 L392.48,445.12 L390.97,446.35 L389.47,447.62 L387.96,448.92 L386.45,450.26 L384.95,451.64 L383.44,453.04 L381.94,454.46 L380.43,455.89 L378.92,457.32 L377.42,458.75 L375.91,460.17 L374.4,461.57 L372.9,462.94 L371.39,464.29 L369.89,465.61 L368.38,466.9 L366.87,468.19 L365.37,469.46 L363.86,470.72 L362.35,471.96 L360.85,473.19 L359.34,474.41 L357.84,475.62 L356.33,476.81 L354.82,477.99 L353.32,479.15 L351.81,480.3Z" fill="#ffebeb"/>
<path d="M351.81,479.17 L353.32,478.07 L354.82,476.95 L356.33,475.81 L357.84,474.65 L359.34,473.46 L360.85,472.25 L362.35,471.01 L363.86,469.75 L365.37,468.46 L366.87,467.15 L368.38,465.83 L369.89,464.51 L371.39,463.18 L372.9,461.84 L374.4,460.5 L375.91,459.15 L377.42,457.78 L378.92,456.39 L380.43,454.97 L381.94,453.52 L383.44,452.04 L384.95,450.55 L386.45,449.07 L387.96,447.62 L389.47,446.21 L390.97,444.85 L392.48,443.52 L393.98,442.23 L395.49,440.97 L397,439.73 L398.5,438.51 L400.01,437.32 L401.52,436.13 L403.02,434.93 L404.53,433.71 L406.03,432.44 L407.54,431.11 L409.05,429.73 L410.55,428.31 L412.06,426.85 L413.57,425.39 L415.07,423.93 L416.58,422.47 L418.08,421.01 L419.59,419.53 L421.1,418.04 L422.6,416.51 L424.11,414.94 L425.61,413.32 L427.12,411.67 L428.63,409.97 L430.13,408.23 L431.64,406.46 L433.15,404.66 L434.65,402.83 L436.16,400.96 L437.66,399.06 L439.17,397.13 L440.68,395.17 L442.18,393.18 L443.69,391.16 L445.2,389.11 L446.7,387.03 L448.21,384.92 L449.71,382.79 L451.22,380.63 L452.73,378.45 L454.23,376.26 L455.74,374.04 L457.25,371.79 L458.75,369.52 L460.26,367.24 L461.76,364.96 L463.27,362.69 L464.78,360.46 L466.28,358.27 L467.79,356.12 L469.29,354.01 L470.8,351.94 L472.31,349.9 L473.81,347.89 L474.32,347.23" fill="none" stroke="#ff00ff" stroke-width="1.5" stroke-linejoin="round"/>
<line x1="351.1" y1="478.9" x2="528.9" y2="337.9" stroke="#000" stroke-width="1.6" stroke-dasharray="5.93 5.93"/>
<path d="M342.21,323.3 V489.4 H537.79" fill="none" stroke="#000" stroke-width="1.6"/>
<path d="M338.21,478.9H342.21M351.1,489.4V493.8M338.21,443.65H342.21M395.55,489.4V493.8M338.21,408.4H342.21M440,489.4V493.8M338.21,373.15H342.21M484.45,489.4V493.8M338.21,337.9H342.21M528.9,489.4V493.8" stroke="#333" stroke-width="1.45"/>
<text x="335.01" y="484.2" text-anchor="end" class="tl" textLength="16.9" lengthAdjust="spacingAndGlyphs">0%</text>
<text x="351.1" y="506" text-anchor="middle" class="tl" textLength="16.9" lengthAdjust="spacingAndGlyphs">0%</text>
<text x="335.01" y="448.95" text-anchor="end" class="tl" textLength="23.3" lengthAdjust="spacingAndGlyphs">25%</text>
<text x="395.55" y="506" text-anchor="middle" class="tl" textLength="23.3" lengthAdjust="spacingAndGlyphs">25%</text>
<text x="335.01" y="413.7" text-anchor="end" class="tl" textLength="23.3" lengthAdjust="spacingAndGlyphs">50%</text>
<text x="440" y="506" text-anchor="middle" class="tl" textLength="23.3" lengthAdjust="spacingAndGlyphs">50%</text>
<text x="335.01" y="378.45" text-anchor="end" class="tl" textLength="23.3" lengthAdjust="spacingAndGlyphs">75%</text>
<text x="484.45" y="506" text-anchor="middle" class="tl" textLength="23.3" lengthAdjust="spacingAndGlyphs">75%</text>
<text x="335.01" y="343.2" text-anchor="end" class="tl" textLength="29.6" lengthAdjust="spacingAndGlyphs">100%</text>
<text x="528.9" y="506" text-anchor="middle" class="tl" textLength="29.6" lengthAdjust="spacingAndGlyphs">100%</text>
<g fill="#80ff80" stroke="#000" stroke-width="1.2"><rect x="351.1" y="302.4" width="3.56" height="17.8"/><rect x="354.66" y="269.4" width="3.56" height="50.8"/><rect x="358.21" y="288" width="3.56" height="30.8"/><rect x="361.77" y="273.1" width="3.56" height="45"/><rect x="365.32" y="280.4" width="3.56" height="37.5"/><rect x="368.88" y="294.8" width="3.56" height="23.8"/><rect x="372.44" y="290" width="3.56" height="27.5"/><rect x="375.99" y="301.4" width="3.56" height="16.1"/><rect x="379.55" y="290.4" width="3.56" height="26.4"/><rect x="383.1" y="293.4" width="3.56" height="23.4"/><rect x="386.66" y="303" width="3.56" height="13.5"/><rect x="390.22" y="294.1" width="3.56" height="19.7"/><rect x="393.77" y="305.5" width="3.56" height="10.3"/><rect x="397.33" y="296.5" width="3.56" height="17.8"/><rect x="400.88" y="295.2" width="3.56" height="19.1"/><rect x="404.44" y="305.8" width="3.56" height="10.7"/><rect x="408" y="297.6" width="3.56" height="15.7"/><rect x="411.55" y="303.7" width="3.56" height="11.7"/><rect x="415.11" y="299.3" width="3.56" height="13.4"/><rect x="418.66" y="299.3" width="3.56" height="13.1"/><rect x="422.22" y="304.4" width="3.56" height="9.4"/><rect x="425.78" y="300.6" width="3.56" height="10"/><rect x="429.33" y="305.5" width="3.56" height="7.2"/><rect x="432.89" y="304.4" width="3.56" height="8"/><rect x="436.44" y="302.9" width="3.56" height="8.9"/><rect x="440" y="312.7" width="3.56" height="4.1"/><rect x="443.56" y="310.5" width="3.56" height="4.5"/><rect x="447.11" y="317.3" width="3.56" height="1.4"/><rect x="450.67" y="314.6" width="3.56" height="3.1"/><rect x="454.22" y="316.8" width="3.56" height="1.9"/><rect x="457.78" y="318.1" width="3.56" height="1.1"/><rect x="461.34" y="318.7" width="3.56" height="0.8"/><rect x="464.89" y="319.4" width="3.56" height="0.4"/><rect x="468.45" y="319.5" width="3.56" height="0.4"/><rect x="472" y="319.5" width="3.56" height="0.4"/></g>
<g fill="#ff8080" stroke="#000" stroke-width="1.2"><rect x="358.21" y="318.8" width="3.56" height="1.4"/><rect x="361.77" y="318.1" width="3.56" height="2.1"/><rect x="365.32" y="317.9" width="3.56" height="2.3"/><rect x="368.88" y="318.6" width="3.56" height="1.6"/><rect x="372.44" y="317.5" width="3.56" height="2.7"/><rect x="375.99" y="317.5" width="3.56" height="2.7"/><rect x="379.55" y="316.8" width="3.56" height="3.4"/><rect x="383.1" y="316.8" width="3.56" height="3.4"/><rect x="386.66" y="316.5" width="3.56" height="3.7"/><rect x="390.22" y="313.8" width="3.56" height="6.4"/><rect x="393.77" y="315.8" width="3.56" height="4.4"/><rect x="397.33" y="314.3" width="3.56" height="5.9"/><rect x="400.88" y="314.3" width="3.56" height="5.9"/><rect x="404.44" y="316.5" width="3.56" height="3.7"/><rect x="408" y="313.3" width="3.56" height="6.9"/><rect x="411.55" y="315.4" width="3.56" height="4.8"/><rect x="415.11" y="312.7" width="3.56" height="7.5"/><rect x="418.66" y="312.4" width="3.56" height="7.8"/><rect x="422.22" y="313.8" width="3.56" height="6.4"/><rect x="425.78" y="310.6" width="3.56" height="9.6"/><rect x="429.33" y="312.7" width="3.56" height="7.5"/><rect x="432.89" y="312.4" width="3.56" height="7.8"/><rect x="436.44" y="311.8" width="3.56" height="8.4"/><rect x="440" y="316.8" width="3.56" height="3.4"/><rect x="443.56" y="315" width="3.56" height="5.2"/><rect x="447.11" y="318.7" width="3.56" height="1.5"/><rect x="450.67" y="317.7" width="3.56" height="2.5"/><rect x="454.22" y="318.7" width="3.56" height="1.5"/><rect x="457.78" y="319.2" width="3.56" height="1"/><rect x="461.34" y="319.5" width="3.56" height="0.7"/><rect x="464.89" y="319.8" width="3.56" height="0.4"/><rect x="468.45" y="319.9" width="3.56" height="0.3"/><rect x="472" y="319.9" width="3.56" height="0.3"/></g>
<line x1="350.5" y1="320.2" x2="529.5" y2="320.2" stroke="#000" stroke-width="1.1"/>
<text x="479.4" y="278.8" text-anchor="middle" class="tt" textLength="32.2" lengthAdjust="spacingAndGlyphs">KNN</text>
<path d="M80.89,746.84 L82.4,745.79 L83.9,744.74 L85.41,743.68 L86.92,742.61 L88.42,741.53 L89.93,740.44 L91.44,739.35 L92.94,738.24 L94.45,737.13 L95.95,736 L97.46,734.87 L98.97,733.73 L100.47,732.57 L101.98,731.4 L103.49,730.21 L104.99,729.02 L106.5,727.82 L108.01,726.61 L109.51,725.39 L111.02,724.17 L112.53,722.94 L114.03,721.71 L115.54,720.49 L117.05,719.26 L118.55,718.04 L120.06,716.82 L121.57,715.6 L123.07,714.39 L124.58,713.17 L126.09,711.95 L127.59,710.73 L129.1,709.51 L130.61,708.29 L132.11,707.07 L133.62,705.85 L135.13,704.63 L136.63,703.41 L138.14,702.19 L139.65,700.97 L141.15,699.75 L142.66,698.53 L144.17,697.32 L145.67,696.11 L147.18,694.9 L148.69,693.71 L150.19,692.52 L151.7,691.33 L153.21,690.16 L154.71,688.98 L156.22,687.8 L157.73,686.6 L159.23,685.4 L160.74,684.17 L162.24,682.93 L163.75,681.66 L165.26,680.37 L166.76,679.07 L168.27,677.75 L169.78,676.42 L171.28,675.06 L172.79,673.7 L174.3,672.32 L175.8,670.92 L177.31,669.5 L178.82,668.07 L180.32,666.62 L181.83,665.14 L183.34,663.63 L184.84,662.1 L186.35,660.54 L187.86,658.97 L189.36,657.39 L190.87,655.81 L192.38,654.22 L193.88,652.63 L195.39,650.99 L196.9,649.27 L198.4,647.44 L199.91,645.47 L201.42,643.37 L202.92,641.19 L204.43,638.98 L205.94,636.79 L207.44,634.63 L208.95,632.51 L210.46,630.4 L211.96,628.33 L213.47,626.3 L214.98,624.32 L216.48,622.41 L217.99,620.55 L219.5,618.74 L221,616.97 L222.51,615.23 L224.02,613.53 L225.52,611.87 L227.03,610.25 L228.53,608.67 L230.04,607.14 L231.55,605.66 L232.55,604.68 L232.55,637.17 L231.55,637.7 L230.04,638.5 L228.53,639.29 L227.03,640.09 L225.52,640.88 L224.02,641.67 L222.51,642.46 L221,643.26 L219.5,644.04 L217.99,644.81 L216.48,645.56 L214.98,646.28 L213.47,647 L211.96,647.72 L210.46,648.47 L208.95,649.27 L207.44,650.1 L205.94,650.98 L204.43,651.89 L202.92,652.84 L201.42,653.83 L199.91,654.86 L198.4,655.94 L196.9,657.08 L195.39,658.28 L193.88,659.55 L192.38,660.86 L190.87,662.22 L189.36,663.61 L187.86,665.02 L186.35,666.43 L184.84,667.83 L183.34,669.22 L181.83,670.57 L180.32,671.9 L178.82,673.21 L177.31,674.5 L175.8,675.79 L174.3,677.07 L172.79,678.35 L171.28,679.61 L169.78,680.87 L168.27,682.12 L166.76,683.36 L165.26,684.58 L163.75,685.8 L162.24,687 L160.74,688.18 L159.23,689.35 L157.73,690.51 L156.22,691.66 L154.71,692.8 L153.21,693.94 L151.7,695.08 L150.19,696.23 L148.69,697.38 L147.18,698.54 L145.67,699.71 L144.17,700.88 L142.66,702.06 L141.15,703.24 L139.65,704.42 L138.14,705.61 L136.63,706.79 L135.13,707.98 L133.62,709.17 L132.11,710.36 L130.61,711.54 L129.1,712.73 L127.59,713.92 L126.09,715.1 L124.58,716.29 L123.07,717.47 L121.57,718.64 L120.06,719.82 L118.55,720.99 L117.05,722.17 L115.54,723.34 L114.03,724.51 L112.53,725.69 L111.02,726.86 L109.51,728.02 L108.01,729.19 L106.5,730.36 L104.99,731.52 L103.49,732.69 L101.98,733.85 L100.47,735.01 L98.97,736.16 L97.46,737.32 L95.95,738.47 L94.45,739.62 L92.94,740.77 L91.44,741.91 L89.93,743.06 L88.42,744.2 L86.92,745.34 L85.41,746.48 L83.9,747.61 L82.4,748.75 L80.89,749.88Z" fill="#ffebeb"/>
<path d="M80.89,748.36 L82.4,747.26 L83.91,746.16 L85.41,745.06 L86.92,743.95 L88.43,742.84 L89.94,741.73 L91.45,740.61 L92.95,739.49 L94.46,738.36 L95.97,737.22 L97.48,736.07 L98.99,734.92 L100.49,733.75 L102,732.57 L103.51,731.4 L105.02,730.22 L106.53,729.05 L108.03,727.87 L109.54,726.7 L111.05,725.52 L112.56,724.33 L114.07,723.14 L115.57,721.93 L117.08,720.73 L118.59,719.51 L120.1,718.3 L121.61,717.09 L123.11,715.88 L124.62,714.66 L126.13,713.45 L127.64,712.25 L129.15,711.04 L130.65,709.85 L132.16,708.66 L133.67,707.47 L135.18,706.29 L136.69,705.1 L138.19,703.91 L139.7,702.71 L141.21,701.51 L142.72,700.31 L144.23,699.1 L145.74,697.88 L147.24,696.66 L148.75,695.43 L150.26,694.2 L151.77,692.98 L153.28,691.77 L154.78,690.58 L156.29,689.42 L157.8,688.28 L159.31,687.16 L160.82,686.04 L162.32,684.92 L163.83,683.79 L165.34,682.66 L166.85,681.51 L168.36,680.35 L169.86,679.18 L171.37,678 L172.88,676.8 L174.39,675.6 L175.9,674.38 L177.4,673.14 L178.91,671.87 L180.42,670.56 L181.93,669.21 L183.44,667.83 L184.94,666.41 L186.45,664.99 L187.96,663.57 L189.47,662.16 L190.98,660.77 L192.48,659.39 L193.99,658.03 L195.5,656.66 L197.01,655.3 L198.52,653.93 L200.03,652.55 L201.53,651.16 L203.04,649.75 L204.55,648.29 L206.06,646.77 L207.57,645.16 L209.07,643.47 L210.58,641.7 L212.09,639.88 L213.6,638.06 L215.11,636.29 L216.61,634.57 L218.12,632.93 L219.63,631.37 L221.14,629.88 L222.65,628.47 L224.15,627.14 L225.66,625.89 L227.17,624.72 L228.68,623.61 L230.19,622.57 L231.69,621.59 L232.2,621.27" fill="none" stroke="#ffa3b1" stroke-width="1.5" stroke-linejoin="round"/>
<line x1="80" y1="751.4" x2="257.8" y2="599.5" stroke="#000" stroke-width="1.6" stroke-dasharray="5.93 5.93"/>
<path d="M71.11,592.2 V758.9 H266.69" fill="none" stroke="#000" stroke-width="1.6"/>
<path d="M67.11,751.4H71.11M80,758.9V763.3M67.11,713.42H71.11M124.45,758.9V763.3M67.11,675.45H71.11M168.9,758.9V763.3M67.11,637.48H71.11M213.35,758.9V763.3M67.11,599.5H71.11M257.8,758.9V763.3" stroke="#333" stroke-width="1.45"/>
<text x="63.91" y="756.7" text-anchor="end" class="tl" textLength="16.9" lengthAdjust="spacingAndGlyphs">0%</text>
<text x="80" y="775.5" text-anchor="middle" class="tl" textLength="16.9" lengthAdjust="spacingAndGlyphs">0%</text>
<text x="63.91" y="718.72" text-anchor="end" class="tl" textLength="23.3" lengthAdjust="spacingAndGlyphs">25%</text>
<text x="124.45" y="775.5" text-anchor="middle" class="tl" textLength="23.3" lengthAdjust="spacingAndGlyphs">25%</text>
<text x="63.91" y="680.75" text-anchor="end" class="tl" textLength="23.3" lengthAdjust="spacingAndGlyphs">50%</text>
<text x="168.9" y="775.5" text-anchor="middle" class="tl" textLength="23.3" lengthAdjust="spacingAndGlyphs">50%</text>
<text x="63.91" y="642.77" text-anchor="end" class="tl" textLength="23.3" lengthAdjust="spacingAndGlyphs">75%</text>
<text x="213.35" y="775.5" text-anchor="middle" class="tl" textLength="23.3" lengthAdjust="spacingAndGlyphs">75%</text>
<text x="63.91" y="604.8" text-anchor="end" class="tl" textLength="29.6" lengthAdjust="spacingAndGlyphs">100%</text>
<text x="257.8" y="775.5" text-anchor="middle" class="tl" textLength="29.6" lengthAdjust="spacingAndGlyphs">100%</text>
<g fill="#80ff80" stroke="#000" stroke-width="1.2"><rect x="80" y="539.2" width="3.56" height="50.1"/><rect x="83.56" y="555.7" width="3.56" height="33.3"/><rect x="87.11" y="558.7" width="3.56" height="30.1"/><rect x="90.67" y="558.7" width="3.56" height="29.2"/><rect x="94.22" y="563.6" width="3.56" height="24.3"/><rect x="97.78" y="566.7" width="3.56" height="21.2"/><rect x="101.34" y="571" width="3.56" height="16.9"/><rect x="104.89" y="571" width="3.56" height="16.9"/><rect x="108.45" y="571.9" width="3.56" height="16"/><rect x="112" y="574.2" width="3.56" height="12.8"/><rect x="115.56" y="572.4" width="3.56" height="14.6"/><rect x="119.12" y="572.4" width="3.56" height="15.5"/><rect x="122.67" y="574.9" width="3.56" height="11.7"/><rect x="126.23" y="574.9" width="3.56" height="11.2"/><rect x="129.78" y="576.5" width="3.56" height="11.2"/><rect x="133.34" y="575.9" width="3.56" height="11.1"/><rect x="136.9" y="573.8" width="3.56" height="11.4"/><rect x="140.45" y="574.9" width="3.56" height="11"/><rect x="144.01" y="573.8" width="3.56" height="11"/><rect x="147.56" y="575.6" width="3.56" height="10.5"/><rect x="151.12" y="573.8" width="3.56" height="10"/><rect x="154.68" y="575.6" width="3.56" height="8.5"/><rect x="158.23" y="575.9" width="3.56" height="8.9"/><rect x="161.79" y="575.9" width="3.56" height="7.9"/><rect x="165.34" y="576.5" width="3.56" height="7.3"/><rect x="168.9" y="579.3" width="3.56" height="6.3"/><rect x="172.46" y="580.7" width="3.56" height="5.4"/><rect x="176.01" y="578.3" width="3.56" height="6.9"/><rect x="179.57" y="580.4" width="3.56" height="5.2"/><rect x="183.12" y="582.4" width="3.56" height="4.2"/><rect x="186.68" y="584.2" width="3.56" height="3"/><rect x="190.24" y="584.8" width="3.56" height="2.7"/><rect x="193.79" y="585.2" width="3.56" height="2.3"/><rect x="197.35" y="584.2" width="3.56" height="2.8"/><rect x="200.9" y="585.6" width="3.56" height="1.9"/><rect x="204.46" y="587" width="3.56" height="1.1"/><rect x="208.02" y="587.5" width="3.56" height="0.8"/><rect x="211.57" y="586.1" width="3.56" height="2"/><rect x="215.13" y="588.3" width="3.56" height="0.5"/><rect x="218.68" y="588.3" width="3.56" height="0.5"/><rect x="222.24" y="588.3" width="3.56" height="0.5"/><rect x="225.8" y="588.3" width="3.56" height="0.5"/><rect x="229.35" y="588.6" width="3.56" height="0.4"/></g>
<g fill="#ff8080" stroke="#000" stroke-width="1.2"><rect x="83.56" y="589" width="3.56" height="0.3"/><rect x="87.11" y="588.8" width="3.56" height="0.5"/><rect x="90.67" y="587.9" width="3.56" height="1.4"/><rect x="94.22" y="587.9" width="3.56" height="1.4"/><rect x="97.78" y="587.9" width="3.56" height="1.4"/><rect x="101.34" y="587.9" width="3.56" height="1.4"/><rect x="104.89" y="587.9" width="3.56" height="1.4"/><rect x="108.45" y="587.9" width="3.56" height="1.4"/><rect x="112" y="587" width="3.56" height="2.3"/><rect x="115.56" y="587" width="3.56" height="2.3"/><rect x="119.12" y="587.9" width="3.56" height="1.4"/><rect x="122.67" y="586.6" width="3.56" height="2.7"/><rect x="126.23" y="586.1" width="3.56" height="3.2"/><rect x="129.78" y="587.7" width="3.56" height="1.6"/><rect x="133.34" y="587" width="3.56" height="2.3"/><rect x="136.9" y="585.2" width="3.56" height="4.1"/><rect x="140.45" y="585.9" width="3.56" height="3.4"/><rect x="144.01" y="584.8" width="3.56" height="4.5"/><rect x="147.56" y="586.1" width="3.56" height="3.2"/><rect x="151.12" y="583.8" width="3.56" height="5.5"/><rect x="154.68" y="584.1" width="3.56" height="5.2"/><rect x="158.23" y="584.8" width="3.56" height="4.5"/><rect x="161.79" y="583.8" width="3.56" height="5.5"/><rect x="165.34" y="583.8" width="3.56" height="5.5"/><rect x="168.9" y="585.6" width="3.56" height="3.7"/><rect x="172.46" y="586.1" width="3.56" height="3.2"/><rect x="176.01" y="585.2" width="3.56" height="4.1"/><rect x="179.57" y="585.6" width="3.56" height="3.7"/><rect x="183.12" y="586.6" width="3.56" height="2.7"/><rect x="186.68" y="587.2" width="3.56" height="2.1"/><rect x="190.24" y="587.5" width="3.56" height="1.8"/><rect x="193.79" y="587.5" width="3.56" height="1.8"/><rect x="197.35" y="587" width="3.56" height="2.3"/><rect x="200.9" y="587.5" width="3.56" height="1.8"/><rect x="204.46" y="588.1" width="3.56" height="1.2"/><rect x="208.02" y="588.3" width="3.56" height="1"/><rect x="211.57" y="588.1" width="3.56" height="1.2"/><rect x="215.13" y="588.8" width="3.56" height="0.5"/><rect x="218.68" y="588.8" width="3.56" height="0.5"/><rect x="222.24" y="588.8" width="3.56" height="0.5"/><rect x="225.8" y="588.8" width="3.56" height="0.5"/><rect x="229.35" y="589" width="3.56" height="0.3"/></g>
<line x1="79.4" y1="589.3" x2="258.4" y2="589.3" stroke="#000" stroke-width="1.1"/>
<text x="196.5" y="552.5" text-anchor="middle" class="tt" textLength="95.7" lengthAdjust="spacingAndGlyphs">Random forest</text>
<path d="M351.81,746.5 L353.32,745.34 L354.83,744.15 L356.34,742.95 L357.84,741.72 L359.35,740.47 L360.86,739.2 L362.37,737.91 L363.88,736.6 L365.38,735.27 L366.89,733.92 L368.4,732.54 L369.91,731.13 L371.42,729.69 L372.92,728.2 L374.43,726.68 L375.94,725.12 L377.45,723.55 L378.96,721.96 L380.46,720.37 L381.97,718.8 L383.48,717.24 L384.99,715.72 L386.5,714.23 L388,712.78 L389.51,711.36 L391.02,709.98 L392.53,708.61 L394.04,707.26 L395.54,705.92 L397.05,704.6 L398.56,703.28 L400.07,701.97 L401.58,700.66 L403.08,699.35 L404.59,698.04 L406.1,696.74 L407.61,695.46 L409.12,694.18 L410.63,692.92 L412.13,691.67 L413.64,690.4 L415.15,689.13 L416.66,687.85 L418.17,686.53 L419.67,685.19 L421.18,683.79 L422.69,682.33 L424.2,680.79 L425.71,679.17 L427.21,677.5 L428.72,675.82 L430.23,674.18 L431.74,672.64 L433.25,671.22 L434.75,669.93 L436.26,668.76 L437.77,667.68 L439.28,666.65 L440.79,665.64 L442.29,664.65 L443.8,663.65 L445.31,662.66 L446.82,661.68 L448.33,660.73 L449.83,659.81 L451.34,658.94 L452.85,658.11 L454.36,657.33 L455.87,656.57 L457.37,655.82 L458.88,655.06 L460.39,654.27 L461.9,653.46 L463.41,652.62 L464.92,651.78 L466.42,650.95 L467.93,650.13 L469.44,649.34 L470.95,648.57 L472.46,647.83 L473.96,647.1 L475.47,646.39 L476.98,645.67 L478.49,644.96 L480,644.24 L481.5,643.5 L483.01,642.75 L484.52,641.98 L486.03,641.17 L487.54,640.35 L489.04,639.5 L490.55,638.64 L492.06,637.77 L493.57,636.89 L495.08,636 L496.58,635.12 L498.09,634.22 L499.6,633.32 L501.11,632.41 L502.62,631.5 L503.12,631.19 L503.12,673.18 L502.62,672.76 L501.11,671.53 L499.6,670.39 L498.09,669.36 L496.58,668.48 L495.08,667.74 L493.57,667.12 L492.06,666.59 L490.55,666.14 L489.04,665.76 L487.54,665.46 L486.03,665.27 L484.52,665.15 L483.01,665.1 L481.5,665.06 L480,665.04 L478.49,665.02 L476.98,665.01 L475.47,665 L473.96,664.99 L472.46,664.98 L470.95,664.98 L469.44,665 L467.93,665.06 L466.42,665.18 L464.92,665.38 L463.41,665.62 L461.9,665.91 L460.39,666.23 L458.88,666.57 L457.37,666.94 L455.87,667.37 L454.36,667.83 L452.85,668.34 L451.34,668.91 L449.83,669.53 L448.33,670.23 L446.82,670.98 L445.31,671.77 L443.8,672.58 L442.29,673.41 L440.79,674.25 L439.28,675.1 L437.77,675.99 L436.26,676.92 L434.75,677.91 L433.25,678.99 L431.74,680.15 L430.23,681.4 L428.72,682.72 L427.21,684.08 L425.71,685.43 L424.2,686.76 L422.69,688.04 L421.18,689.26 L419.67,690.45 L418.17,691.61 L416.66,692.74 L415.15,693.86 L413.64,694.98 L412.13,696.09 L410.63,697.22 L409.12,698.35 L407.61,699.51 L406.1,700.7 L404.59,701.9 L403.08,703.14 L401.58,704.39 L400.07,705.66 L398.56,706.94 L397.05,708.24 L395.54,709.56 L394.04,710.89 L392.53,712.23 L391.02,713.59 L389.51,714.96 L388,716.35 L386.5,717.77 L384.99,719.22 L383.48,720.69 L381.97,722.2 L380.46,723.72 L378.96,725.25 L377.45,726.78 L375.94,728.3 L374.43,729.81 L372.92,731.28 L371.42,732.72 L369.91,734.13 L368.4,735.49 L366.89,736.84 L365.38,738.16 L363.88,739.46 L362.37,740.74 L360.86,742 L359.35,743.25 L357.84,744.47 L356.34,745.68 L354.83,746.86 L353.32,748.03 L351.81,749.18Z" fill="#ffebeb"/>
<path d="M351.81,747.7 L353.32,746.65 L354.83,745.56 L356.34,744.44 L357.84,743.29 L359.35,742.09 L360.86,740.86 L362.37,739.59 L363.88,738.27 L365.38,736.92 L366.89,735.52 L368.4,734.08 L369.91,732.6 L371.42,731.04 L372.92,729.43 L374.43,727.8 L375.94,726.19 L377.45,724.63 L378.96,723.12 L380.46,721.64 L381.97,720.19 L383.48,718.75 L384.99,717.34 L386.5,715.94 L388,714.56 L389.51,713.19 L391.02,711.84 L392.53,710.51 L394.04,709.18 L395.54,707.86 L397.05,706.53 L398.56,705.2 L400.07,703.88 L401.58,702.56 L403.08,701.26 L404.59,699.97 L406.1,698.7 L407.61,697.45 L409.12,696.21 L410.63,694.98 L412.13,693.75 L413.64,692.53 L415.15,691.32 L416.66,690.12 L418.17,688.92 L419.67,687.72 L421.18,686.49 L422.69,685.24 L424.2,683.95 L425.71,682.63 L427.21,681.28 L428.72,679.93 L430.23,678.59 L431.74,677.27 L433.25,675.99 L434.75,674.74 L436.26,673.52 L437.77,672.32 L439.28,671.16 L440.79,670.05 L442.29,669 L443.8,668.02 L445.31,667.09 L446.82,666.21 L448.33,665.35 L449.83,664.5 L451.34,663.64 L452.85,662.77 L454.36,661.89 L455.87,661.03 L457.37,660.19 L458.88,659.4 L460.39,658.66 L461.9,657.98 L463.41,657.32 L464.92,656.7 L466.42,656.13 L467.93,655.6 L469.44,655.12 L470.95,654.69 L472.46,654.28 L473.96,653.91 L475.47,653.55 L476.98,653.19 L478.49,652.84 L480,652.49 L481.5,652.15 L483.01,651.83 L484.52,651.52 L486.03,651.23 L487.54,650.95 L489.04,650.68 L490.55,650.43 L492.06,650.21 L493.57,650.03 L495.08,649.9 L496.58,649.79 L498.09,649.72 L499.6,649.76 L501.11,650.1 L502.62,650.85 L503.12,651.18" fill="none" stroke="#1ee6e6" stroke-width="1.5" stroke-linejoin="round"/>
<line x1="351.1" y1="748" x2="528.9" y2="599.2" stroke="#000" stroke-width="1.6" stroke-dasharray="5.93 5.93"/>
<path d="M342.21,592.2 V758.9 H537.79" fill="none" stroke="#000" stroke-width="1.6"/>
<path d="M338.21,748H342.21M351.1,758.9V763.3M338.21,710.8H342.21M395.55,758.9V763.3M338.21,673.6H342.21M440,758.9V763.3M338.21,636.4H342.21M484.45,758.9V763.3M338.21,599.2H342.21M528.9,758.9V763.3" stroke="#333" stroke-width="1.45"/>
<text x="335.01" y="753.3" text-anchor="end" class="tl" textLength="16.9" lengthAdjust="spacingAndGlyphs">0%</text>
<text x="351.1" y="775.5" text-anchor="middle" class="tl" textLength="16.9" lengthAdjust="spacingAndGlyphs">0%</text>
<text x="335.01" y="716.1" text-anchor="end" class="tl" textLength="23.3" lengthAdjust="spacingAndGlyphs">25%</text>
<text x="395.55" y="775.5" text-anchor="middle" class="tl" textLength="23.3" lengthAdjust="spacingAndGlyphs">25%</text>
<text x="335.01" y="678.9" text-anchor="end" class="tl" textLength="23.3" lengthAdjust="spacingAndGlyphs">50%</text>
<text x="440" y="775.5" text-anchor="middle" class="tl" textLength="23.3" lengthAdjust="spacingAndGlyphs">50%</text>
<text x="335.01" y="641.7" text-anchor="end" class="tl" textLength="23.3" lengthAdjust="spacingAndGlyphs">75%</text>
<text x="484.45" y="775.5" text-anchor="middle" class="tl" textLength="23.3" lengthAdjust="spacingAndGlyphs">75%</text>
<text x="335.01" y="604.5" text-anchor="end" class="tl" textLength="29.6" lengthAdjust="spacingAndGlyphs">100%</text>
<text x="528.9" y="775.5" text-anchor="middle" class="tl" textLength="29.6" lengthAdjust="spacingAndGlyphs">100%</text>
<g fill="#80ff80" stroke="#000" stroke-width="1.2"><rect x="351.1" y="574.5" width="3.56" height="14.8"/><rect x="354.66" y="546.2" width="3.56" height="43.1"/><rect x="358.21" y="539.8" width="3.56" height="48.1"/><rect x="361.77" y="540.7" width="3.56" height="47.1"/><rect x="365.32" y="550.3" width="3.56" height="37.2"/><rect x="368.88" y="551.4" width="3.56" height="35.4"/><rect x="372.44" y="556.6" width="3.56" height="28.4"/><rect x="375.99" y="559.7" width="3.56" height="25.8"/><rect x="379.55" y="559.7" width="3.56" height="26.3"/><rect x="383.1" y="564.5" width="3.56" height="21.2"/><rect x="386.66" y="564.9" width="3.56" height="20.8"/><rect x="390.22" y="567.9" width="3.56" height="16.5"/><rect x="393.77" y="567.9" width="3.56" height="15.8"/><rect x="397.33" y="568.6" width="3.56" height="17.1"/><rect x="400.88" y="573.1" width="3.56" height="12.9"/><rect x="404.44" y="568.6" width="3.56" height="15.3"/><rect x="408" y="573.1" width="3.56" height="11.5"/><rect x="411.55" y="570.9" width="3.56" height="12.4"/><rect x="415.11" y="574.8" width="3.56" height="9.8"/><rect x="418.66" y="575.4" width="3.56" height="10.1"/><rect x="422.22" y="575.9" width="3.56" height="8"/><rect x="425.78" y="577.5" width="3.56" height="7.1"/><rect x="429.33" y="576.1" width="3.56" height="7.8"/><rect x="432.89" y="578.6" width="3.56" height="5.3"/><rect x="436.44" y="578.1" width="3.56" height="5.7"/><rect x="440" y="576.9" width="3.56" height="6.5"/><rect x="443.56" y="577.6" width="3.56" height="6.2"/><rect x="447.11" y="579.3" width="3.56" height="5.5"/><rect x="450.67" y="581.1" width="3.56" height="3.7"/><rect x="454.22" y="582.4" width="3.56" height="3.5"/><rect x="457.78" y="582.4" width="3.56" height="3.5"/><rect x="461.34" y="584.8" width="3.56" height="2.2"/><rect x="464.89" y="583.8" width="3.56" height="2.8"/><rect x="468.45" y="585.6" width="3.56" height="1.9"/><rect x="472" y="585.2" width="3.56" height="2.3"/><rect x="475.56" y="585.2" width="3.56" height="2.7"/><rect x="479.12" y="586.6" width="3.56" height="1.5"/><rect x="482.67" y="587.2" width="3.56" height="1.1"/><rect x="486.23" y="587.9" width="3.56" height="0.7"/><rect x="489.78" y="587.9" width="3.56" height="0.7"/><rect x="493.34" y="588.3" width="3.56" height="0.5"/><rect x="496.9" y="588.6" width="3.56" height="0.4"/></g>
<g fill="#ff8080" stroke="#000" stroke-width="1.2"><rect x="358.21" y="587.9" width="3.56" height="1.4"/><rect x="361.77" y="587.8" width="3.56" height="1.5"/><rect x="365.32" y="587.5" width="3.56" height="1.8"/><rect x="368.88" y="586.8" width="3.56" height="2.5"/><rect x="372.44" y="585" width="3.56" height="4.3"/><rect x="375.99" y="585.5" width="3.56" height="3.8"/><rect x="379.55" y="586" width="3.56" height="3.3"/><rect x="383.1" y="585.7" width="3.56" height="3.6"/><rect x="386.66" y="585.7" width="3.56" height="3.6"/><rect x="390.22" y="584.4" width="3.56" height="4.9"/><rect x="393.77" y="583.7" width="3.56" height="5.6"/><rect x="397.33" y="585.7" width="3.56" height="3.6"/><rect x="400.88" y="586" width="3.56" height="3.3"/><rect x="404.44" y="583.9" width="3.56" height="5.4"/><rect x="408" y="584.6" width="3.56" height="4.7"/><rect x="411.55" y="583.3" width="3.56" height="6"/><rect x="415.11" y="584.6" width="3.56" height="4.7"/><rect x="418.66" y="585.5" width="3.56" height="3.8"/><rect x="422.22" y="583.9" width="3.56" height="5.4"/><rect x="425.78" y="584.6" width="3.56" height="4.7"/><rect x="429.33" y="583.9" width="3.56" height="5.4"/><rect x="432.89" y="583.9" width="3.56" height="5.4"/><rect x="436.44" y="583.8" width="3.56" height="5.5"/><rect x="440" y="583.4" width="3.56" height="5.9"/><rect x="443.56" y="583.8" width="3.56" height="5.5"/><rect x="447.11" y="584.8" width="3.56" height="4.5"/><rect x="450.67" y="584.8" width="3.56" height="4.5"/><rect x="454.22" y="585.9" width="3.56" height="3.4"/><rect x="457.78" y="585.9" width="3.56" height="3.4"/><rect x="461.34" y="587" width="3.56" height="2.3"/><rect x="464.89" y="586.6" width="3.56" height="2.7"/><rect x="468.45" y="587.5" width="3.56" height="1.8"/><rect x="472" y="587.5" width="3.56" height="1.8"/><rect x="475.56" y="587.9" width="3.56" height="1.4"/><rect x="479.12" y="588.1" width="3.56" height="1.2"/><rect x="482.67" y="588.3" width="3.56" height="1"/><rect x="486.23" y="588.6" width="3.56" height="0.7"/><rect x="489.78" y="588.6" width="3.56" height="0.7"/><rect x="493.34" y="588.8" width="3.56" height="0.5"/><rect x="496.9" y="589" width="3.56" height="0.3"/></g>
<line x1="350.5" y1="589.3" x2="529.5" y2="589.3" stroke="#000" stroke-width="1.1"/>
<text x="479.1" y="552.4" text-anchor="middle" class="tt" textLength="120.4" lengthAdjust="spacingAndGlyphs">Logistic regression</text>
<path d="M80.71,1017.15 L82.22,1016.2 L83.73,1015.24 L85.23,1014.29 L86.74,1013.32 L88.25,1012.36 L89.76,1011.39 L91.27,1010.41 L92.77,1009.44 L94.28,1008.46 L95.79,1007.48 L97.3,1006.49 L98.8,1005.5 L100.31,1004.51 L101.82,1003.52 L103.33,1002.52 L104.84,1001.51 L106.34,1000.49 L107.85,999.46 L109.36,998.41 L110.87,997.34 L112.37,996.27 L113.88,995.19 L115.39,994.11 L116.9,993.04 L118.41,991.98 L119.91,990.93 L121.42,989.91 L122.93,988.91 L124.44,987.95 L125.94,987.02 L127.45,986.12 L128.96,985.27 L130.47,984.44 L131.98,983.65 L133.48,982.87 L134.99,982.12 L136.5,981.38 L138.01,980.65 L139.51,979.92 L141.02,979.21 L142.53,978.51 L144.04,977.81 L145.55,977.13 L147.05,976.46 L148.56,975.8 L150.07,975.14 L151.58,974.48 L153.08,973.81 L154.59,973.15 L156.1,972.47 L157.61,971.79 L159.11,971.09 L160.62,970.4 L162.13,969.7 L163.64,969 L165.15,968.3 L166.65,967.59 L168.16,966.88 L169.67,966.17 L171.18,965.44 L172.68,964.71 L174.19,963.97 L175.7,963.22 L177.21,962.45 L178.72,961.68 L180.22,960.88 L181.73,960.08 L183.24,959.25 L184.75,958.41 L186.25,957.56 L187.76,956.7 L189.27,955.82 L190.78,954.93 L192.29,954.03 L193.79,953.13 L195.3,952.21 L196.81,951.29 L198.32,950.36 L199.82,949.43 L201.33,948.47 L202.84,947.5 L204.35,946.52 L205.86,945.51 L207.36,944.47 L208.87,943.41 L210.38,942.3 L211.89,941.16 L213.39,940 L214.9,938.85 L216.41,937.73 L217.92,936.62 L219.43,935.54 L220.93,934.46 L222.44,933.38 L223.95,932.29 L225.46,931.18 L226.96,930.04 L228.47,928.87 L229.98,927.66 L231.49,926.4 L233,925.08 L234.5,923.72 L236.01,922.33 L237.52,920.92 L239.03,919.51 L240.53,918.1 L242.04,916.71 L243.55,915.34 L245.06,913.99 L246.57,912.66 L248.07,911.33 L249.58,910.01 L251.09,908.7 L252.6,907.4 L254.1,906.1 L255.61,904.82 L257.12,903.53 L257.62,903.11 L257.62,922.59 L257.12,922.75 L255.61,923.25 L254.1,923.77 L252.6,924.31 L251.09,924.87 L249.58,925.45 L248.07,926.05 L246.57,926.67 L245.06,927.31 L243.55,927.97 L242.04,928.65 L240.53,929.36 L239.03,930.09 L237.52,930.85 L236.01,931.63 L234.5,932.44 L233,933.27 L231.49,934.12 L229.98,935 L228.47,935.91 L226.96,936.86 L225.46,937.84 L223.95,938.85 L222.44,939.87 L220.93,940.91 L219.43,941.96 L217.92,943 L216.41,944.04 L214.9,945.07 L213.39,946.09 L211.89,947.11 L210.38,948.11 L208.87,949.08 L207.36,950.03 L205.86,950.95 L204.35,951.86 L202.84,952.75 L201.33,953.62 L199.82,954.49 L198.32,955.34 L196.81,956.19 L195.3,957.03 L193.79,957.87 L192.29,958.7 L190.78,959.53 L189.27,960.34 L187.76,961.15 L186.25,961.96 L184.75,962.75 L183.24,963.53 L181.73,964.31 L180.22,965.07 L178.72,965.82 L177.21,966.57 L175.7,967.3 L174.19,968.02 L172.68,968.74 L171.18,969.45 L169.67,970.15 L168.16,970.85 L166.65,971.54 L165.15,972.24 L163.64,972.92 L162.13,973.61 L160.62,974.29 L159.11,974.97 L157.61,975.65 L156.1,976.32 L154.59,976.98 L153.08,977.63 L151.58,978.28 L150.07,978.93 L148.56,979.58 L147.05,980.23 L145.55,980.89 L144.04,981.56 L142.53,982.24 L141.02,982.93 L139.51,983.63 L138.01,984.34 L136.5,985.06 L134.99,985.79 L133.48,986.53 L131.98,987.28 L130.47,988.06 L128.96,988.86 L127.45,989.69 L125.94,990.54 L124.44,991.43 L122.93,992.34 L121.42,993.28 L119.91,994.24 L118.41,995.22 L116.9,996.21 L115.39,997.21 L113.88,998.22 L112.37,999.23 L110.87,1000.23 L109.36,1001.24 L107.85,1002.23 L106.34,1003.21 L104.84,1004.18 L103.33,1005.14 L101.82,1006.1 L100.31,1007.06 L98.8,1008.01 L97.3,1008.97 L95.79,1009.92 L94.28,1010.87 L92.77,1011.82 L91.27,1012.77 L89.76,1013.72 L88.25,1014.67 L86.74,1015.61 L85.23,1016.56 L83.73,1017.5 L82.22,1018.44 L80.71,1019.39Z" fill="#ffebeb"/>
<path d="M80.71,1018.34 L82.22,1017.39 L83.73,1016.43 L85.23,1015.47 L86.74,1014.5 L88.25,1013.54 L89.76,1012.57 L91.27,1011.61 L92.77,1010.64 L94.28,1009.67 L95.79,1008.7 L97.3,1007.73 L98.8,1006.76 L100.31,1005.78 L101.82,1004.8 L103.33,1003.83 L104.84,1002.85 L106.34,1001.87 L107.85,1000.89 L109.36,999.9 L110.87,998.89 L112.37,997.87 L113.88,996.84 L115.39,995.81 L116.9,994.79 L118.41,993.77 L119.91,992.75 L121.42,991.75 L122.93,990.76 L124.44,989.79 L125.94,988.84 L127.45,987.9 L128.96,987 L130.47,986.12 L131.98,985.28 L133.48,984.48 L134.99,983.74 L136.5,983.05 L138.01,982.4 L139.51,981.77 L141.02,981.14 L142.53,980.52 L144.04,979.88 L145.55,979.24 L147.05,978.59 L148.56,977.93 L150.07,977.25 L151.58,976.56 L153.08,975.86 L154.59,975.15 L156.1,974.45 L157.61,973.74 L159.11,973.04 L160.62,972.35 L162.13,971.67 L163.64,970.99 L165.15,970.3 L166.65,969.61 L168.16,968.92 L169.67,968.21 L171.18,967.49 L172.68,966.77 L174.19,966.03 L175.7,965.28 L177.21,964.52 L178.72,963.75 L180.22,962.97 L181.73,962.18 L183.24,961.38 L184.75,960.56 L186.25,959.74 L187.76,958.91 L189.27,958.07 L190.78,957.22 L192.29,956.36 L193.79,955.49 L195.3,954.62 L196.81,953.73 L198.32,952.84 L199.82,951.94 L201.33,951.02 L202.84,950.1 L204.35,949.16 L205.86,948.2 L207.36,947.23 L208.87,946.24 L210.38,945.23 L211.89,944.19 L213.39,943.16 L214.9,942.12 L216.41,941.1 L217.92,940.1 L219.43,939.1 L220.93,938.1 L222.44,937.1 L223.95,936.09 L225.46,935.08 L226.96,934.06 L228.47,933.03 L229.98,931.99 L231.49,930.95 L233,929.89 L234.5,928.83 L236.01,927.76 L237.52,926.69 L239.03,925.61 L240.53,924.54 L242.04,923.46 L243.55,922.39 L245.06,921.31 L246.57,920.24 L248.07,919.17 L249.58,918.1 L251.09,917.04 L252.6,915.98 L254.1,914.93 L255.61,913.87 L257.12,912.82 L257.62,912.47" fill="none" stroke="#2b1170" stroke-width="1.5" stroke-linejoin="round"/>
<line x1="80" y1="1017.9" x2="257.8" y2="869.2" stroke="#000" stroke-width="1.6" stroke-dasharray="5.93 5.93"/>
<path d="M71.11,861.5 V1028 H266.69" fill="none" stroke="#000" stroke-width="1.6"/>
<path d="M67.11,1017.9H71.11M80,1028V1032.4M67.11,980.73H71.11M124.45,1028V1032.4M67.11,943.55H71.11M168.9,1028V1032.4M67.11,906.38H71.11M213.35,1028V1032.4M67.11,869.2H71.11M257.8,1028V1032.4" stroke="#333" stroke-width="1.45"/>
<text x="63.91" y="1023.2" text-anchor="end" class="tl" textLength="16.9" lengthAdjust="spacingAndGlyphs">0%</text>
<text x="80" y="1044.6" text-anchor="middle" class="tl" textLength="16.9" lengthAdjust="spacingAndGlyphs">0%</text>
<text x="63.91" y="986.02" text-anchor="end" class="tl" textLength="23.3" lengthAdjust="spacingAndGlyphs">25%</text>
<text x="124.45" y="1044.6" text-anchor="middle" class="tl" textLength="23.3" lengthAdjust="spacingAndGlyphs">25%</text>
<text x="63.91" y="948.85" text-anchor="end" class="tl" textLength="23.3" lengthAdjust="spacingAndGlyphs">50%</text>
<text x="168.9" y="1044.6" text-anchor="middle" class="tl" textLength="23.3" lengthAdjust="spacingAndGlyphs">50%</text>
<text x="63.91" y="911.67" text-anchor="end" class="tl" textLength="23.3" lengthAdjust="spacingAndGlyphs">75%</text>
<text x="213.35" y="1044.6" text-anchor="middle" class="tl" textLength="23.3" lengthAdjust="spacingAndGlyphs">75%</text>
<text x="63.91" y="874.5" text-anchor="end" class="tl" textLength="29.6" lengthAdjust="spacingAndGlyphs">100%</text>
<text x="257.8" y="1044.6" text-anchor="middle" class="tl" textLength="29.6" lengthAdjust="spacingAndGlyphs">100%</text>
<g fill="#80ff80" stroke="#000" stroke-width="1.2"><rect x="80" y="830.7" width="3.56" height="28.1"/><rect x="83.56" y="811.5" width="3.56" height="46.6"/><rect x="87.11" y="808.7" width="3.56" height="49.4"/><rect x="90.67" y="815.6" width="3.56" height="42.8"/><rect x="94.22" y="815.2" width="3.56" height="43.2"/><rect x="97.78" y="822.7" width="3.56" height="33.4"/><rect x="101.34" y="822.7" width="3.56" height="33.2"/><rect x="104.89" y="831.6" width="3.56" height="25.1"/><rect x="108.45" y="834" width="3.56" height="22.7"/><rect x="112" y="830.3" width="3.56" height="25.1"/><rect x="115.56" y="830.7" width="3.56" height="25.4"/><rect x="119.12" y="836.4" width="3.56" height="19.2"/><rect x="122.67" y="838.5" width="3.56" height="16.5"/><rect x="126.23" y="840.8" width="3.56" height="15.9"/><rect x="129.78" y="837.8" width="3.56" height="16.9"/><rect x="133.34" y="837.5" width="3.56" height="17.5"/><rect x="136.9" y="837.8" width="3.56" height="16.9"/><rect x="140.45" y="839.2" width="3.56" height="14.8"/><rect x="144.01" y="841.6" width="3.56" height="13.4"/><rect x="147.56" y="844.7" width="3.56" height="10.9"/><rect x="151.12" y="840.3" width="3.56" height="12.9"/><rect x="154.68" y="841.9" width="3.56" height="12.1"/><rect x="158.23" y="842.6" width="3.56" height="13"/><rect x="161.79" y="844.9" width="3.56" height="10.1"/><rect x="165.34" y="843.7" width="3.56" height="9.2"/><rect x="168.9" y="844.7" width="3.56" height="10.5"/><rect x="172.46" y="846" width="3.56" height="9.6"/><rect x="176.01" y="847.8" width="3.56" height="7.8"/><rect x="179.57" y="846.7" width="3.56" height="9.9"/><rect x="183.12" y="840.5" width="3.56" height="13.4"/><rect x="186.68" y="845.4" width="3.56" height="8.9"/><rect x="190.24" y="845.6" width="3.56" height="8"/><rect x="193.79" y="846" width="3.56" height="9"/><rect x="197.35" y="845.6" width="3.56" height="7.3"/><rect x="200.9" y="846.7" width="3.56" height="6.2"/><rect x="204.46" y="847" width="3.56" height="6.3"/><rect x="208.02" y="848.4" width="3.56" height="5.5"/><rect x="211.57" y="845.4" width="3.56" height="7.9"/><rect x="215.13" y="847.8" width="3.56" height="5.1"/><rect x="218.68" y="843.7" width="3.56" height="8.8"/><rect x="222.24" y="846.7" width="3.56" height="4.8"/><rect x="225.8" y="849.7" width="3.56" height="4.2"/><rect x="229.35" y="850.8" width="3.56" height="3.1"/><rect x="232.91" y="846.7" width="3.56" height="7.2"/><rect x="236.46" y="846.4" width="3.56" height="4.4"/><rect x="240.02" y="847.8" width="3.56" height="5.1"/><rect x="243.58" y="850.6" width="3.56" height="3.3"/><rect x="247.13" y="852.9" width="3.56" height="1.8"/><rect x="250.69" y="852.9" width="3.56" height="1.8"/><rect x="254.24" y="855.6" width="3.56" height="1.4"/></g>
<g fill="#ff8080" stroke="#000" stroke-width="1.2"><rect x="83.56" y="858.1" width="3.56" height="0.7"/><rect x="87.11" y="858.1" width="3.56" height="0.7"/><rect x="90.67" y="858.4" width="3.56" height="0.4"/><rect x="94.22" y="858.4" width="3.56" height="0.4"/><rect x="97.78" y="856.1" width="3.56" height="2.7"/><rect x="101.34" y="855.9" width="3.56" height="2.9"/><rect x="104.89" y="856.7" width="3.56" height="2.1"/><rect x="108.45" y="856.7" width="3.56" height="2.1"/><rect x="112" y="855.4" width="3.56" height="3.4"/><rect x="115.56" y="856.1" width="3.56" height="2.7"/><rect x="119.12" y="855.6" width="3.56" height="3.2"/><rect x="122.67" y="855" width="3.56" height="3.8"/><rect x="126.23" y="856.7" width="3.56" height="2.1"/><rect x="129.78" y="854.7" width="3.56" height="4.1"/><rect x="133.34" y="855" width="3.56" height="3.8"/><rect x="136.9" y="854.7" width="3.56" height="4.1"/><rect x="140.45" y="854" width="3.56" height="4.8"/><rect x="144.01" y="855" width="3.56" height="3.8"/><rect x="147.56" y="855.6" width="3.56" height="3.2"/><rect x="151.12" y="853.2" width="3.56" height="5.6"/><rect x="154.68" y="854" width="3.56" height="4.8"/><rect x="158.23" y="855.6" width="3.56" height="3.2"/><rect x="161.79" y="855" width="3.56" height="3.8"/><rect x="165.34" y="852.9" width="3.56" height="5.9"/><rect x="168.9" y="855.2" width="3.56" height="3.6"/><rect x="172.46" y="855.6" width="3.56" height="3.2"/><rect x="176.01" y="855.6" width="3.56" height="3.2"/><rect x="179.57" y="856.6" width="3.56" height="2.2"/><rect x="183.12" y="853.9" width="3.56" height="4.9"/><rect x="186.68" y="854.3" width="3.56" height="4.5"/><rect x="190.24" y="853.6" width="3.56" height="5.2"/><rect x="193.79" y="855" width="3.56" height="3.8"/><rect x="197.35" y="852.9" width="3.56" height="5.9"/><rect x="200.9" y="852.9" width="3.56" height="5.9"/><rect x="204.46" y="853.3" width="3.56" height="5.5"/><rect x="208.02" y="853.9" width="3.56" height="4.9"/><rect x="211.57" y="853.3" width="3.56" height="5.5"/><rect x="215.13" y="852.9" width="3.56" height="5.9"/><rect x="218.68" y="852.5" width="3.56" height="6.3"/><rect x="222.24" y="851.5" width="3.56" height="7.3"/><rect x="225.8" y="853.9" width="3.56" height="4.9"/><rect x="229.35" y="853.9" width="3.56" height="4.9"/><rect x="232.91" y="853.9" width="3.56" height="4.9"/><rect x="236.46" y="850.8" width="3.56" height="8"/><rect x="240.02" y="852.9" width="3.56" height="5.9"/><rect x="243.58" y="853.9" width="3.56" height="4.9"/><rect x="247.13" y="854.7" width="3.56" height="4.1"/><rect x="250.69" y="854.7" width="3.56" height="4.1"/><rect x="254.24" y="857" width="3.56" height="1.8"/></g>
<line x1="79.4" y1="858.8" x2="258.4" y2="858.8" stroke="#000" stroke-width="1.1"/>
<text x="196.4" y="805.5" text-anchor="middle" class="tt" textLength="116.3" lengthAdjust="spacingAndGlyphs">Framingham risk </text>
<text x="196.4" y="827.3" text-anchor="middle" class="tt" textLength="96" lengthAdjust="spacingAndGlyphs">model, original</text>
<path d="M351.81,1016.2 L353.32,1015.05 L354.82,1013.87 L356.33,1012.66 L357.83,1011.43 L359.34,1010.16 L360.84,1008.87 L362.35,1007.55 L363.85,1006.2 L365.36,1004.83 L366.86,1003.43 L368.37,1002 L369.87,1000.51 L371.38,998.94 L372.88,997.3 L374.39,995.59 L375.9,993.83 L377.4,992.07 L378.91,990.34 L380.41,988.66 L381.92,987.08 L383.42,985.62 L384.93,984.3 L386.43,983.12 L387.94,982.07 L389.44,981.1 L390.95,980.2 L392.45,979.33 L393.96,978.47 L395.46,977.61 L396.97,976.71 L398.47,975.76 L399.98,974.78 L401.48,973.77 L402.99,972.74 L404.5,971.68 L406,970.62 L407.51,969.53 L409.01,968.43 L410.52,967.31 L412.02,966.17 L413.53,965.01 L415.03,963.83 L416.54,962.64 L418.04,961.43 L419.55,960.21 L421.05,958.96 L422.56,957.7 L424.06,956.42 L425.57,955.11 L427.07,953.78 L428.58,952.42 L430.08,951.03 L431.59,949.61 L433.1,948.15 L434.6,946.64 L436.11,945.07 L437.61,943.42 L439.12,941.69 L440.62,939.91 L442.13,938.08 L443.63,936.25 L445.14,934.42 L446.64,932.64 L448.15,930.91 L449.65,929.26 L451.16,927.69 L452.66,926.2 L454.17,924.75 L455.67,923.35 L457.18,921.99 L458.68,920.65 L460.19,919.34 L461.7,918.05 L463.2,916.77 L464.71,915.5 L466.21,914.25 L467.72,913.02 L469.22,911.82 L470.73,910.64 L472.23,909.46 L473.74,908.29 L475.24,907.12 L476.75,905.92 L478.25,904.71 L479.76,903.47 L481.26,902.22 L482.77,900.97 L484.27,899.71 L485.78,898.43 L487.28,897.13 L488.79,895.79 L490.29,894.4 L491.8,892.93 L493.31,891.36 L494.81,889.63 L496.32,887.78 L497.82,885.96 L499.33,884.36 L500.83,883.06 L502.34,882.04 L503.84,881.25 L505.35,880.69 L506.85,880.33 L506.85,926.65 L505.35,926.2 L503.84,925.79 L502.34,925.42 L500.83,925.1 L499.33,924.85 L497.82,924.65 L496.32,924.53 L494.81,924.47 L493.31,924.47 L491.8,924.53 L490.29,924.64 L488.79,924.78 L487.28,924.94 L485.78,925.12 L484.27,925.3 L482.77,925.5 L481.26,925.7 L479.76,925.93 L478.25,926.19 L476.75,926.47 L475.24,926.78 L473.74,927.13 L472.23,927.54 L470.73,928.03 L469.22,928.6 L467.72,929.23 L466.21,929.92 L464.71,930.65 L463.2,931.41 L461.7,932.21 L460.19,933.05 L458.68,933.92 L457.18,934.83 L455.67,935.76 L454.17,936.71 L452.66,937.69 L451.16,938.68 L449.65,939.69 L448.15,940.72 L446.64,941.79 L445.14,942.87 L443.63,943.99 L442.13,945.13 L440.62,946.29 L439.12,947.46 L437.61,948.66 L436.11,949.88 L434.6,951.13 L433.1,952.41 L431.59,953.74 L430.08,955.1 L428.58,956.5 L427.07,957.91 L425.57,959.33 L424.06,960.75 L422.56,962.15 L421.05,963.52 L419.55,964.85 L418.04,966.14 L416.54,967.37 L415.03,968.56 L413.53,969.71 L412.02,970.83 L410.52,971.92 L409.01,972.99 L407.51,974.04 L406,975.07 L404.5,976.08 L402.99,977.07 L401.48,978.04 L399.98,979 L398.47,979.93 L396.97,980.82 L395.46,981.67 L393.96,982.49 L392.45,983.3 L390.95,984.11 L389.44,984.97 L387.94,985.88 L386.43,986.88 L384.93,988 L383.42,989.25 L381.92,990.63 L380.41,992.13 L378.91,993.73 L377.4,995.38 L375.9,997.06 L374.39,998.74 L372.88,1000.39 L371.38,1001.98 L369.87,1003.5 L368.37,1004.96 L366.86,1006.37 L365.36,1007.74 L363.85,1009.1 L362.35,1010.44 L360.84,1011.75 L359.34,1013.05 L357.83,1014.32 L356.33,1015.57 L354.82,1016.79 L353.32,1018 L351.81,1019.18Z" fill="#ffebeb"/>
<path d="M351.81,1017.7 L353.32,1016.49 L354.82,1015.26 L356.33,1014.01 L357.83,1012.74 L359.34,1011.44 L360.84,1010.13 L362.35,1008.8 L363.85,1007.46 L365.36,1006.1 L366.86,1004.7 L368.37,1003.25 L369.87,1001.74 L371.38,1000.13 L372.88,998.54 L374.39,997.04 L375.9,995.59 L377.4,994.13 L378.91,992.62 L380.41,991.01 L381.92,989.34 L383.42,987.68 L384.93,986.1 L386.43,984.66 L387.94,983.32 L389.44,982.13 L390.95,981.18 L392.45,980.39 L393.96,979.69 L395.46,978.97 L396.97,978.18 L398.47,977.34 L399.98,976.48 L401.48,975.59 L402.99,974.65 L404.5,973.67 L406,972.63 L407.51,971.53 L409.01,970.36 L410.52,969.15 L412.02,967.91 L413.53,966.65 L415.03,965.35 L416.54,963.99 L418.04,962.59 L419.55,961.19 L421.05,959.82 L422.56,958.5 L424.06,957.26 L425.57,956.05 L427.07,954.89 L428.58,953.74 L430.08,952.59 L431.59,951.43 L433.1,950.24 L434.6,949 L436.11,947.71 L437.61,946.34 L439.12,944.92 L440.62,943.49 L442.13,942.08 L443.63,940.73 L445.14,939.46 L446.64,938.3 L448.15,937.21 L449.65,936.14 L451.16,935.05 L452.66,933.92 L454.17,932.77 L455.67,931.6 L457.18,930.44 L458.68,929.27 L460.19,928.12 L461.7,926.98 L463.2,925.87 L464.71,924.79 L466.21,923.74 L467.72,922.71 L469.22,921.7 L470.73,920.71 L472.23,919.73 L473.74,918.77 L475.24,917.82 L476.75,916.89 L478.25,915.97 L479.76,915.07 L481.26,914.19 L482.77,913.33 L484.27,912.48 L485.78,911.65 L487.28,910.83 L488.79,910.02 L490.29,909.21 L491.8,908.4 L493.31,907.59 L494.81,906.72 L496.32,905.74 L497.82,905 L499.33,905.47 L500.83,906.04 L502.34,905.92 L503.84,905.5 L505.35,904.69 L506.85,903.4" fill="none" stroke="#ff1a1a" stroke-width="1.5" stroke-linejoin="round"/>
<line x1="351.1" y1="1018" x2="528.9" y2="869.2" stroke="#000" stroke-width="1.6" stroke-dasharray="5.93 5.93"/>
<path d="M342.21,861.5 V1028 H537.79" fill="none" stroke="#000" stroke-width="1.6"/>
<path d="M338.21,1018H342.21M351.1,1028V1032.4M338.21,980.8H342.21M395.55,1028V1032.4M338.21,943.6H342.21M440,1028V1032.4M338.21,906.4H342.21M484.45,1028V1032.4M338.21,869.2H342.21M528.9,1028V1032.4" stroke="#333" stroke-width="1.45"/>
<text x="335.01" y="1023.3" text-anchor="end" class="tl" textLength="16.9" lengthAdjust="spacingAndGlyphs">0%</text>
<text x="351.1" y="1044.6" text-anchor="middle" class="tl" textLength="16.9" lengthAdjust="spacingAndGlyphs">0%</text>
<text x="335.01" y="986.1" text-anchor="end" class="tl" textLength="23.3" lengthAdjust="spacingAndGlyphs">25%</text>
<text x="395.55" y="1044.6" text-anchor="middle" class="tl" textLength="23.3" lengthAdjust="spacingAndGlyphs">25%</text>
<text x="335.01" y="948.9" text-anchor="end" class="tl" textLength="23.3" lengthAdjust="spacingAndGlyphs">50%</text>
<text x="440" y="1044.6" text-anchor="middle" class="tl" textLength="23.3" lengthAdjust="spacingAndGlyphs">50%</text>
<text x="335.01" y="911.7" text-anchor="end" class="tl" textLength="23.3" lengthAdjust="spacingAndGlyphs">75%</text>
<text x="484.45" y="1044.6" text-anchor="middle" class="tl" textLength="23.3" lengthAdjust="spacingAndGlyphs">75%</text>
<text x="335.01" y="874.5" text-anchor="end" class="tl" textLength="29.6" lengthAdjust="spacingAndGlyphs">100%</text>
<text x="528.9" y="1044.6" text-anchor="middle" class="tl" textLength="29.6" lengthAdjust="spacingAndGlyphs">100%</text>
<g fill="#80ff80" stroke="#000" stroke-width="1.2"><rect x="351.1" y="826.6" width="3.56" height="32.2"/><rect x="354.66" y="808.7" width="3.56" height="49.4"/><rect x="358.21" y="814.7" width="3.56" height="43.7"/><rect x="361.77" y="820" width="3.56" height="38.1"/><rect x="365.32" y="822.7" width="3.56" height="33.4"/><rect x="368.88" y="830.7" width="3.56" height="26"/><rect x="372.44" y="831.2" width="3.56" height="24.9"/><rect x="375.99" y="830.7" width="3.56" height="25.6"/><rect x="379.55" y="838.1" width="3.56" height="18"/><rect x="383.1" y="836.7" width="3.56" height="18.7"/><rect x="386.66" y="837.5" width="3.56" height="18.1"/><rect x="390.22" y="835.7" width="3.56" height="17.5"/><rect x="393.77" y="839.5" width="3.56" height="15.5"/><rect x="397.33" y="840.3" width="3.56" height="13.7"/><rect x="400.88" y="839.9" width="3.56" height="14.1"/><rect x="404.44" y="843.3" width="3.56" height="12.1"/><rect x="408" y="841.9" width="3.56" height="12.1"/><rect x="411.55" y="844.9" width="3.56" height="10.5"/><rect x="415.11" y="846.3" width="3.56" height="9.1"/><rect x="418.66" y="841.9" width="3.56" height="12.1"/><rect x="422.22" y="844.9" width="3.56" height="9.1"/><rect x="425.78" y="845.4" width="3.56" height="8.6"/><rect x="429.33" y="845.8" width="3.56" height="7.4"/><rect x="432.89" y="848.5" width="3.56" height="5.5"/><rect x="436.44" y="846" width="3.56" height="7"/><rect x="440" y="847.8" width="3.56" height="6.1"/><rect x="443.56" y="846" width="3.56" height="7.3"/><rect x="447.11" y="847.4" width="3.56" height="5.1"/><rect x="450.67" y="850.8" width="3.56" height="3.9"/><rect x="454.22" y="849.5" width="3.56" height="5.2"/><rect x="457.78" y="849.5" width="3.56" height="3"/><rect x="461.34" y="850.6" width="3.56" height="3.7"/><rect x="464.89" y="852.9" width="3.56" height="2.7"/><rect x="468.45" y="854.4" width="3.56" height="2.2"/><rect x="472" y="855.4" width="3.56" height="1.8"/><rect x="475.56" y="855.8" width="3.56" height="1.5"/><rect x="479.12" y="856.9" width="3.56" height="1.1"/><rect x="482.67" y="857.6" width="3.56" height="0.7"/><rect x="486.23" y="858" width="3.56" height="0.5"/><rect x="489.78" y="858" width="3.56" height="0.5"/><rect x="493.34" y="858" width="3.56" height="0.5"/></g>
<g fill="#ff8080" stroke="#000" stroke-width="1.2"><rect x="354.66" y="858.1" width="3.56" height="0.7"/><rect x="358.21" y="858.4" width="3.56" height="0.4"/><rect x="361.77" y="858.1" width="3.56" height="0.7"/><rect x="365.32" y="856.1" width="3.56" height="2.7"/><rect x="368.88" y="856.7" width="3.56" height="2.1"/><rect x="372.44" y="856.1" width="3.56" height="2.7"/><rect x="375.99" y="856.3" width="3.56" height="2.5"/><rect x="379.55" y="856.1" width="3.56" height="2.7"/><rect x="383.1" y="855.4" width="3.56" height="3.4"/><rect x="386.66" y="855.6" width="3.56" height="3.2"/><rect x="390.22" y="853.2" width="3.56" height="5.6"/><rect x="393.77" y="855" width="3.56" height="3.8"/><rect x="397.33" y="854" width="3.56" height="4.8"/><rect x="400.88" y="854" width="3.56" height="4.8"/><rect x="404.44" y="855.4" width="3.56" height="3.4"/><rect x="408" y="854" width="3.56" height="4.8"/><rect x="411.55" y="855.4" width="3.56" height="3.4"/><rect x="415.11" y="855.4" width="3.56" height="3.4"/><rect x="418.66" y="854" width="3.56" height="4.8"/><rect x="422.22" y="854" width="3.56" height="4.8"/><rect x="425.78" y="854" width="3.56" height="4.8"/><rect x="429.33" y="853.2" width="3.56" height="5.6"/><rect x="432.89" y="854" width="3.56" height="4.8"/><rect x="436.44" y="853" width="3.56" height="5.8"/><rect x="440" y="853.9" width="3.56" height="4.9"/><rect x="443.56" y="853.3" width="3.56" height="5.5"/><rect x="447.11" y="852.5" width="3.56" height="6.3"/><rect x="450.67" y="854.7" width="3.56" height="4.1"/><rect x="454.22" y="854.7" width="3.56" height="4.1"/><rect x="457.78" y="852.5" width="3.56" height="6.3"/><rect x="461.34" y="854.3" width="3.56" height="4.5"/><rect x="464.89" y="855.6" width="3.56" height="3.2"/><rect x="468.45" y="856.6" width="3.56" height="2.2"/><rect x="472" y="857.2" width="3.56" height="1.6"/><rect x="475.56" y="857.3" width="3.56" height="1.5"/><rect x="479.12" y="858" width="3.56" height="0.8"/><rect x="482.67" y="858.3" width="3.56" height="0.5"/><rect x="486.23" y="858.5" width="3.56" height="0.3"/><rect x="489.78" y="858.5" width="3.56" height="0.3"/><rect x="493.34" y="858.5" width="3.56" height="0.3"/></g>
<line x1="350.5" y1="858.8" x2="529.5" y2="858.8" stroke="#000" stroke-width="1.1"/>
<text x="479.2" y="805.8" text-anchor="middle" class="tt" textLength="116.6" lengthAdjust="spacingAndGlyphs">Framingham risk </text>
<text x="479.2" y="827" text-anchor="middle" class="tt" textLength="124.1" lengthAdjust="spacingAndGlyphs">model, recalibrated</text>
<text x="554.6" y="345.8" class="lt" textLength="67.6" lengthAdjust="spacingAndGlyphs">Reference</text>
<rect x="553.8" y="355.2" width="24.3" height="26.6" fill="#f2f2f2"/>
<line x1="556.4" y1="368.6" x2="574.7" y2="368.6" stroke="#000" stroke-width="1.6" stroke-dasharray="6.7 4.8"/>
<text x="586.9" y="366.9" class="ll" textLength="39.2" lengthAdjust="spacingAndGlyphs">Perfect</text>
<text x="591.1" y="380.6" class="ll" textLength="60.2" lengthAdjust="spacingAndGlyphs">calibration</text>
<text x="554.6" y="460.9" class="lt" textLength="73.0" lengthAdjust="spacingAndGlyphs">Prediction</text>
<text x="559.7" y="478.3" class="lt" textLength="65.5" lengthAdjust="spacingAndGlyphs">outcomes</text>
<rect x="553.8" y="488.1" width="24.3" height="48.5" fill="#f2f2f2"/>
<rect x="563.2" y="497.6" width="5.6" height="5.6" fill="#00ff00"/>
<rect x="563.2" y="521.5" width="5.6" height="5.6" fill="#ff0000"/>
<text x="586.9" y="504.8" class="ll" textLength="97.7" lengthAdjust="spacingAndGlyphs">Not hypertension</text>
<text x="586.9" y="528.8" class="ll" textLength="74.2" lengthAdjust="spacingAndGlyphs">Hypertension</text>
<text x="314.4" y="1074.8" text-anchor="middle" class="at" textLength="98.4" lengthAdjust="spacingAndGlyphs">Predicted risk</text>
<text transform="translate(12.3,547.9) rotate(-90)" text-anchor="middle" class="at" textLength="395.4" lengthAdjust="spacingAndGlyphs">Observed incidence in individuals with X predicted risk</text>
</svg>
</body></html>
